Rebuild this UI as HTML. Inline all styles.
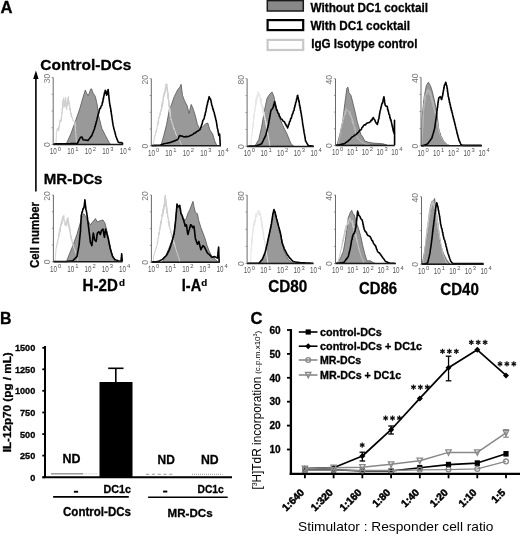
<!DOCTYPE html>
<html><head><meta charset="utf-8"><style>
html,body{margin:0;padding:0;background:#fff;}
svg{display:block;font-family:"Liberation Sans", sans-serif;}
body{filter:grayscale(1) blur(0.35px);}
</style></head><body>
<svg width="520" height="535" viewBox="0 0 520 535">
<rect width="520" height="535" fill="#fff"/>
<text x="0.5" y="13" font-size="16.5" font-weight="bold" fill="#000" text-anchor="start" stroke="#000" stroke-width="0.3" textLength="12" lengthAdjust="spacingAndGlyphs" >A</text>
<rect x="267.3" y="0.6" width="36" height="10.4" fill="#888" stroke="#1a1a1a" stroke-width="1.5"/>
<rect x="267.6" y="20.1" width="35.6" height="10" fill="#fff" stroke="#000" stroke-width="2.2"/>
<rect x="267.6" y="39.9" width="35.6" height="10.1" fill="#fff" stroke="#c8c8c8" stroke-width="2.2"/>
<text x="310.5" y="11.5" font-size="12.5" font-weight="bold" fill="#000" text-anchor="start" stroke="#000" stroke-width="0.3" textLength="117.5" lengthAdjust="spacingAndGlyphs" >Without DC1 cocktail</text>
<text x="310.5" y="29.5" font-size="12.5" font-weight="bold" fill="#000" text-anchor="start" stroke="#000" stroke-width="0.3" textLength="99.5" lengthAdjust="spacingAndGlyphs" >With DC1 cocktail</text>
<text x="311.2" y="47.5" font-size="12.5" font-weight="bold" fill="#000" text-anchor="start" stroke="#000" stroke-width="0.3" textLength="106.3" lengthAdjust="spacingAndGlyphs" >IgG Isotype control</text>
<text x="40.3" y="69.8" font-size="15" font-weight="bold" fill="#000" text-anchor="start" stroke="#000" stroke-width="0.3" textLength="91" lengthAdjust="spacingAndGlyphs" >Control-DCs</text>
<text x="43.8" y="184.3" font-size="15" font-weight="bold" fill="#000" text-anchor="start" stroke="#000" stroke-width="0.3" textLength="58.7" lengthAdjust="spacingAndGlyphs" >MR-DCs</text>
<line x1="35.9" y1="75" x2="35.9" y2="191.6" stroke="#000" stroke-width="1.6" />
<polygon points="33.2,79.0 35.9,70.5 38.6,79.0" fill="#000" stroke="none" stroke-width="1" stroke-linejoin="round" />
<text x="38.5" y="268" font-size="12.5" font-weight="bold" fill="#000" text-anchor="start" stroke="#000" stroke-width="0.3" textLength="66" lengthAdjust="spacingAndGlyphs" transform="rotate(-90 38.5 268)" >Cell number</text>
<text x="82.6" y="290.7" font-size="15.6" font-weight="bold" stroke="#000" stroke-width="0.3" textLength="35.2" lengthAdjust="spacingAndGlyphs">H-2D</text>
<text x="118.9" y="285.8" font-size="9.8" font-weight="bold" stroke="#000" stroke-width="0.2">d</text>
<text x="181.8" y="290.8" font-size="15.6" font-weight="bold" stroke="#000" stroke-width="0.3" textLength="19.4" lengthAdjust="spacingAndGlyphs">I-A</text>
<text x="201.2" y="285.9" font-size="9.8" font-weight="bold" stroke="#000" stroke-width="0.2">d</text>
<text x="268.3" y="291.8" font-size="16" font-weight="bold" fill="#000" text-anchor="start" stroke="#000" stroke-width="0.3" textLength="39.0" lengthAdjust="spacingAndGlyphs" >CD80</text>
<text x="359.0" y="293.9" font-size="16" font-weight="bold" fill="#000" text-anchor="start" stroke="#000" stroke-width="0.3" textLength="38.0" lengthAdjust="spacingAndGlyphs" >CD86</text>
<text x="440.3" y="294.9" font-size="16" font-weight="bold" fill="#000" text-anchor="start" stroke="#000" stroke-width="0.3" textLength="38.6" lengthAdjust="spacingAndGlyphs" >CD40</text>
<line x1="51.6" y1="77.5" x2="53.2" y2="77.5" stroke="#888" stroke-width="0.8" />
<line x1="51.6" y1="94.25" x2="53.2" y2="94.25" stroke="#888" stroke-width="0.8" />
<line x1="51.6" y1="111.0" x2="53.2" y2="111.0" stroke="#888" stroke-width="0.8" />
<line x1="51.6" y1="127.75" x2="53.2" y2="127.75" stroke="#888" stroke-width="0.8" />
<line x1="51.6" y1="144.5" x2="53.2" y2="144.5" stroke="#888" stroke-width="0.8" />
<polygon points="66.0,144.5 71.0,133.4 77.4,115.6 80.0,108.0 82.5,99.0 85.3,90.0 86.5,93.0 88.2,95.9 90.8,88.9 91.6,88.9 93.0,93.0 95.4,96.5 97.3,105.4 98.6,115.6 101.8,128.3 105.6,135.9 109.4,142.9 110.7,144.5" fill="#999" stroke="#555" stroke-width="0.8" stroke-linejoin="round" />
<polyline points="56.0,144.0 56.0,143.1 56.1,141.9 56.1,141.2 56.1,139.9 56.2,139.3 56.2,137.7 56.3,137.2 56.3,135.6 56.3,135.2 56.4,133.5 56.4,133.0 56.6,132.3 56.8,130.6 57.1,130.7 57.3,127.9 57.5,128.0 57.8,129.5 58.2,129.5 58.5,131.0 58.6,130.9 58.8,127.8 58.9,128.9 59.0,126.2 59.2,127.5 59.3,124.5 59.5,125.5 59.6,122.1 59.7,122.7 59.9,120.3 60.0,120.0 60.5,122.0 61.0,122.0 61.1,119.4 61.2,120.8 61.3,117.6 61.4,119.6 61.5,115.8 61.6,117.6 61.7,114.2 61.8,114.8 61.9,111.9 62.0,112.0 62.1,113.1 62.2,108.3 62.4,110.5 62.5,105.9 62.6,108.9 62.7,104.4 62.8,107.7 62.9,101.4 63.0,104.6 63.2,99.6 63.3,103.3 63.4,100.0 63.6,97.8 63.8,104.8 64.0,101.3 64.1,107.2 64.3,103.8 64.5,106.0 64.6,106.9 64.8,101.3 64.9,104.3 65.1,99.8 65.2,102.1 65.4,97.3 65.5,99.0 65.6,102.9 65.7,98.6 65.8,105.1 65.9,101.3 66.1,106.5 66.2,102.7 66.3,108.2 66.4,105.1 66.5,108.0 66.7,109.7 66.9,103.0 67.1,107.0 67.3,104.0 67.5,100.5 67.7,103.2 67.8,98.2 68.0,102.6 68.2,99.0 68.4,96.5 68.6,104.0 68.8,100.3 69.0,104.9 69.2,104.0 69.4,102.6 69.5,107.0 69.7,105.1 69.8,109.2 70.0,107.9 70.2,110.9 70.3,108.8 70.5,112.0 70.8,114.0 71.0,112.8 71.2,116.4 71.5,113.9 71.8,117.8 72.0,118.0 72.5,117.7 73.0,121.3 73.5,121.0 74.9,122.0 75.0,121.4 75.1,125.4 75.1,123.6 75.2,126.7 75.3,126.2 75.3,128.7 75.4,127.9 75.5,131.1 75.6,130.6 75.7,132.4 75.7,132.6 75.8,134.0 75.9,135.4 75.9,135.6 76.0,137.4 76.1,137.7 76.2,139.1 76.2,139.8 76.3,141.2 76.4,141.9 76.4,143.1 76.5,144.0" fill="none" stroke="#d0d0d0" stroke-width="1.0" stroke-linejoin="round" />
<polyline points="53.5,144.0 54.8,144.0 56.0,143.9 57.3,143.9 58.5,143.9 59.8,143.9 61.0,143.8 62.3,143.8 63.6,143.8 64.8,143.8 66.1,143.7 67.3,143.7 68.6,143.7 69.9,143.7 71.1,143.6 72.4,143.6 73.6,143.6 74.9,143.6 76.1,143.5 77.4,143.5 77.9,142.4 78.5,141.1 79.0,140.0 79.8,138.7 80.6,137.2 82.0,137.0 82.5,138.3 83.0,139.7 85.0,140.0 86.5,140.3 88.0,140.4 88.9,139.2 89.8,138.3 90.7,136.9 91.6,135.9 92.1,134.8 92.6,133.2 93.2,132.3 93.7,130.6 94.2,129.6 94.6,128.5 94.9,126.6 95.3,126.3 95.6,124.1 96.0,123.7 96.3,121.7 96.7,120.7 97.0,119.7 97.3,117.7 97.6,117.3 98.0,114.8 98.3,114.7 98.6,112.8 98.9,112.7 99.2,110.5 99.8,108.6 100.5,108.4 101.2,106.0 101.8,105.4 102.1,104.4 102.4,102.2 102.7,102.6 103.0,100.3 103.3,98.1 103.5,98.6 103.8,96.0 104.0,95.8 104.3,94.0 104.6,92.3 105.0,92.3 105.3,90.2 105.6,90.8 105.9,93.5 106.3,93.4 106.6,95.2 107.0,94.2 107.3,91.5 107.7,91.9 108.1,89.5 108.2,89.8 108.4,92.8 108.5,92.3 108.6,95.2 108.8,95.1 108.9,97.4 109.0,97.4 109.1,99.5 109.3,100.1 109.4,101.6 109.6,103.4 109.8,103.7 110.0,106.2 110.2,105.7 110.5,108.5 110.7,108.2 110.9,111.5 111.1,110.8 111.3,113.0 111.5,114.8 111.7,115.1 111.9,117.2 112.1,117.7 112.2,119.7 112.4,120.1 112.6,122.5 112.8,122.6 113.0,124.8 113.2,125.7 113.5,126.6 113.8,128.7 114.2,129.4 114.5,131.1 114.8,131.7 115.2,133.6 115.5,134.4 115.8,135.9 116.3,137.3 116.8,138.4 117.3,139.9 117.8,141.0 118.3,142.3 119.6,142.6 120.8,142.6 122.1,142.9 123.0,144.0" fill="none" stroke="#000" stroke-width="1.6" stroke-linejoin="round" />
<line x1="53.2" y1="77.5" x2="53.2" y2="144.5" stroke="#6a6a6a" stroke-width="1" />
<line x1="53.2" y1="144.5" x2="123.2" y2="144.5" stroke="#1a1a1a" stroke-width="1.5" />
<text x="49.8" y="154.3" font-size="9.2" fill="#555" textLength="7.0" lengthAdjust="spacingAndGlyphs">10</text>
<text x="57.8" y="150.5" font-size="5.8" fill="#555">0</text>
<text x="67.3" y="154.3" font-size="9.2" fill="#555" textLength="7.0" lengthAdjust="spacingAndGlyphs">10</text>
<text x="75.3" y="150.5" font-size="5.8" fill="#555">1</text>
<text x="84.8" y="154.3" font-size="9.2" fill="#555" textLength="7.0" lengthAdjust="spacingAndGlyphs">10</text>
<text x="92.8" y="150.5" font-size="5.8" fill="#555">2</text>
<text x="102.3" y="154.3" font-size="9.2" fill="#555" textLength="7.0" lengthAdjust="spacingAndGlyphs">10</text>
<text x="110.3" y="150.5" font-size="5.8" fill="#555">3</text>
<text x="119.8" y="154.3" font-size="9.2" fill="#555" textLength="7.0" lengthAdjust="spacingAndGlyphs">10</text>
<text x="127.8" y="150.5" font-size="5.8" fill="#555">4</text>
<text x="50.0" y="78.5" font-size="8.5" font-weight="normal" fill="#777" text-anchor="middle" transform="rotate(-90 50.0 78.5)" >30</text>
<text x="50.0" y="144.7" font-size="8.5" font-weight="normal" fill="#777" text-anchor="middle" transform="rotate(-90 50.0 144.7)" >0</text>
<line x1="149.70000000000002" y1="78.7" x2="151.3" y2="78.7" stroke="#888" stroke-width="0.8" />
<line x1="149.70000000000002" y1="95.47500000000001" x2="151.3" y2="95.47500000000001" stroke="#888" stroke-width="0.8" />
<line x1="149.70000000000002" y1="112.25" x2="151.3" y2="112.25" stroke="#888" stroke-width="0.8" />
<line x1="149.70000000000002" y1="129.025" x2="151.3" y2="129.025" stroke="#888" stroke-width="0.8" />
<line x1="149.70000000000002" y1="145.8" x2="151.3" y2="145.8" stroke="#888" stroke-width="0.8" />
<polygon points="161.0,145.5 163.8,135.5 166.6,124.4 169.4,109.2 171.4,105.0 174.2,96.7 177.7,89.8 180.0,87.0 181.1,84.3 182.5,95.4 184.6,100.9 187.1,105.7 189.1,113.3 191.2,104.4 193.3,109.2 195.4,116.1 197.4,124.4 199.5,128.6 202.3,127.2 205.7,123.7 207.8,123.0 209.9,130.0 212.7,134.1 214.7,141.0 216.8,145.5" fill="#999" stroke="#555" stroke-width="0.8" stroke-linejoin="round" />
<polyline points="153.0,145.5 153.2,144.6 153.4,143.4 153.6,142.8 153.7,141.3 153.9,140.8 154.1,139.6 154.4,138.3 154.6,137.8 154.9,135.7 155.2,136.1 155.4,134.0 155.7,134.2 155.9,131.1 156.2,132.1 156.5,129.4 156.7,130.0 157.0,128.0 157.2,126.4 157.4,126.5 157.6,123.4 157.8,125.3 158.0,121.8 158.2,123.8 158.4,119.8 158.6,121.9 158.8,117.1 159.0,118.0 159.3,118.0 159.6,114.7 159.9,116.1 160.1,112.6 160.4,114.6 160.7,110.3 161.0,110.6 161.2,111.3 161.4,107.3 161.6,110.3 161.8,104.6 162.0,107.3 162.2,101.9 162.4,106.4 162.6,100.0 162.8,104.4 163.0,100.0 163.2,96.7 163.4,100.2 163.6,94.5 163.9,96.9 164.1,92.6 164.3,95.2 164.5,92.6 164.8,90.5 165.0,93.5 165.3,88.0 165.6,90.7 165.8,84.6 166.1,88.8 166.3,83.5 166.6,84.3 166.7,87.7 166.9,84.0 167.0,90.4 167.1,87.1 167.3,91.9 167.4,88.9 167.5,93.3 167.6,89.7 167.8,95.9 167.9,92.2 168.0,98.6 168.2,93.5 168.3,99.9 168.4,96.3 168.6,102.2 168.7,100.9 168.8,99.6 168.9,105.7 169.1,102.0 169.2,107.2 169.3,104.1 169.4,110.1 169.6,105.8 169.7,111.9 169.8,107.5 169.9,112.6 170.1,110.5 170.2,115.8 170.3,112.2 170.4,116.4 170.6,115.6 170.7,117.5 171.0,119.9 171.3,118.9 171.6,121.7 171.9,121.2 172.2,124.3 172.5,124.0 172.8,123.6 173.2,127.5 173.5,126.5 173.9,129.3 174.2,128.2 174.6,130.8 174.9,131.3 175.3,131.2 175.7,134.2 176.2,133.7 176.6,135.9 177.0,136.0 177.5,136.6 178.1,138.4 178.6,138.5 179.2,140.4 179.7,141.0 180.2,141.8 180.6,142.9 181.1,143.6 181.5,144.7 182.0,145.5" fill="none" stroke="#d0d0d0" stroke-width="1.0" stroke-linejoin="round" />
<polyline points="151.8,145.5 153.2,145.5 154.5,145.4 155.9,145.4 157.3,145.3 158.6,145.3 160.0,145.2 161.3,144.7 162.5,144.3 163.8,143.8 165.2,143.5 166.6,143.3 167.9,142.9 169.3,142.7 170.7,142.4 171.9,141.8 173.0,141.6 174.2,140.9 175.4,140.6 176.5,140.0 177.7,139.6 178.4,138.3 179.0,136.6 179.7,135.5 180.9,136.0 182.1,136.1 183.4,136.7 184.6,136.9 186.1,136.4 187.6,136.7 189.1,136.2 190.5,135.4 191.9,134.9 193.3,134.1 194.3,133.0 195.4,133.0 196.4,131.7 197.4,131.3 198.8,130.5 200.2,129.3 200.6,127.9 201.0,127.2 201.5,125.2 201.9,124.5 202.3,123.0 202.7,121.0 203.0,120.3 203.7,119.5 204.4,117.5 204.7,115.4 205.1,115.1 205.4,112.5 205.7,112.0 206.0,110.9 206.3,108.3 206.5,108.4 206.8,105.9 207.1,105.0 207.4,104.5 207.7,101.7 208.0,101.9 208.3,99.9 208.6,99.7 208.9,97.4 209.2,96.7 209.9,98.5 210.6,99.5 210.9,100.3 211.2,102.3 211.4,102.8 211.7,105.0 212.0,105.7 212.4,106.4 212.8,109.1 213.2,109.0 213.6,111.4 214.0,112.0 214.3,112.8 214.6,114.9 214.9,115.3 215.2,117.2 215.5,117.7 215.8,119.8 216.1,120.3 216.3,121.0 216.5,123.0 216.7,123.4 216.9,125.6 217.1,126.0 217.3,127.9 217.5,128.6 217.8,129.7 218.1,131.6 218.3,132.4 218.6,134.3 218.9,135.5 219.6,134.0 219.7,135.0 219.8,136.7 219.8,137.5 219.9,139.1 220.0,140.1 220.1,141.6 220.1,142.6 220.2,144.0 220.3,145.2" fill="none" stroke="#000" stroke-width="1.6" stroke-linejoin="round" />
<line x1="151.3" y1="78.7" x2="151.3" y2="145.8" stroke="#6a6a6a" stroke-width="1" />
<line x1="151.3" y1="145.8" x2="221" y2="145.8" stroke="#1a1a1a" stroke-width="1.5" />
<text x="147.9" y="155.6" font-size="9.2" fill="#555" textLength="7.0" lengthAdjust="spacingAndGlyphs">10</text>
<text x="155.9" y="151.8" font-size="5.8" fill="#555">0</text>
<text x="165.3" y="155.6" font-size="9.2" fill="#555" textLength="7.0" lengthAdjust="spacingAndGlyphs">10</text>
<text x="173.3" y="151.8" font-size="5.8" fill="#555">1</text>
<text x="182.8" y="155.6" font-size="9.2" fill="#555" textLength="7.0" lengthAdjust="spacingAndGlyphs">10</text>
<text x="190.8" y="151.8" font-size="5.8" fill="#555">2</text>
<text x="200.2" y="155.6" font-size="9.2" fill="#555" textLength="7.0" lengthAdjust="spacingAndGlyphs">10</text>
<text x="208.2" y="151.8" font-size="5.8" fill="#555">3</text>
<text x="217.6" y="155.6" font-size="9.2" fill="#555" textLength="7.0" lengthAdjust="spacingAndGlyphs">10</text>
<text x="225.6" y="151.8" font-size="5.8" fill="#555">4</text>
<text x="148.10000000000002" y="79.7" font-size="8.5" font-weight="normal" fill="#777" text-anchor="middle" transform="rotate(-90 148.10000000000002 79.7)" >20</text>
<text x="148.10000000000002" y="146.0" font-size="8.5" font-weight="normal" fill="#777" text-anchor="middle" transform="rotate(-90 148.10000000000002 146.0)" >0</text>
<line x1="245.5" y1="78.7" x2="247.1" y2="78.7" stroke="#888" stroke-width="0.8" />
<line x1="245.5" y1="95.625" x2="247.1" y2="95.625" stroke="#888" stroke-width="0.8" />
<line x1="245.5" y1="112.55000000000001" x2="247.1" y2="112.55000000000001" stroke="#888" stroke-width="0.8" />
<line x1="245.5" y1="129.47500000000002" x2="247.1" y2="129.47500000000002" stroke="#888" stroke-width="0.8" />
<line x1="245.5" y1="146.4" x2="247.1" y2="146.4" stroke="#888" stroke-width="0.8" />
<polygon points="254.7,146.2 258.8,139.6 261.6,127.2 264.4,110.6 267.1,98.1 269.9,94.0 272.0,91.9 274.0,96.7 276.1,107.8 279.6,117.5 282.3,124.4 285.0,130.0 287.0,134.0 291.0,143.8 293.8,146.2" fill="#999" stroke="#555" stroke-width="0.8" stroke-linejoin="round" />
<polyline points="250.5,146.2 250.6,145.2 250.8,144.1 250.9,143.3 251.0,142.0 251.1,141.5 251.2,139.9 251.4,139.4 251.5,137.9 251.6,137.7 251.8,135.3 251.9,135.8 252.0,133.6 252.1,133.5 252.2,131.4 252.4,131.8 252.5,130.0 252.6,128.4 252.7,128.9 252.8,126.2 252.9,127.6 253.1,123.3 253.2,125.2 253.3,122.1 253.4,123.9 253.5,120.0 253.6,121.2 253.7,118.3 253.8,119.3 253.9,115.5 254.1,117.6 254.2,113.9 254.3,115.7 254.4,112.2 254.5,112.0 254.7,112.4 254.8,108.9 255.0,110.7 255.1,107.0 255.3,108.0 255.4,104.3 255.6,106.5 255.7,101.6 255.9,105.3 256.0,99.1 256.2,103.7 256.3,97.2 256.5,99.0 256.8,101.2 257.1,95.0 257.5,97.8 257.8,91.5 258.1,94.0 258.7,96.4 259.4,93.2 260.0,97.0 260.2,100.6 260.5,97.8 260.8,103.1 261.0,97.8 261.2,104.6 261.5,100.2 261.8,106.9 262.0,105.0 262.2,104.7 262.4,109.1 262.7,105.9 262.9,111.6 263.1,107.4 263.3,113.4 263.5,109.9 263.7,115.3 264.0,111.8 264.2,116.8 264.4,114.6 264.6,117.5 264.8,116.8 265.0,119.9 265.3,118.8 265.5,122.4 265.7,121.6 265.9,121.3 266.1,125.0 266.2,123.4 266.4,127.0 266.6,125.8 266.8,128.3 267.0,127.7 267.1,131.0 267.3,130.2 267.5,132.0 267.7,133.7 267.9,133.3 268.0,135.4 268.2,135.4 268.4,137.4 268.6,137.9 268.8,139.4 268.9,139.7 269.1,141.3 269.3,141.9 269.5,143.4 269.6,144.1 269.8,145.2 270.0,146.2" fill="none" stroke="#e6e6e6" stroke-width="1.0" stroke-linejoin="round" />
<polyline points="247.5,146.2 248.7,146.2 249.9,146.1 251.1,146.1 252.4,146.1 253.6,146.1 254.8,146.0 256.0,146.0 257.1,145.6 258.2,145.1 259.4,144.7 260.5,144.2 261.6,143.8 262.2,142.7 262.8,141.4 263.4,140.3 263.9,138.9 264.5,138.1 265.1,136.5 265.7,135.5 266.0,134.5 266.3,132.8 266.6,132.1 266.9,130.3 267.3,129.7 267.6,127.9 267.9,127.4 268.2,125.4 268.5,124.4 268.7,123.8 268.9,121.2 269.1,120.9 269.3,118.9 269.6,118.9 269.8,116.1 270.0,116.3 270.2,114.0 270.4,113.7 270.6,112.0 271.3,109.6 272.0,109.2 272.7,108.2 273.4,106.4 273.7,104.5 274.0,104.4 274.4,102.1 274.7,101.6 275.0,103.8 275.3,103.7 275.5,106.2 275.8,105.9 276.1,107.8 276.6,110.1 277.1,109.8 277.7,112.4 278.2,113.3 278.8,113.5 279.3,116.1 279.9,116.4 280.4,118.0 281.0,118.9 282.0,119.3 283.1,121.2 284.1,121.6 284.7,122.3 285.3,124.0 285.9,124.4 286.4,126.1 287.0,126.3 287.6,127.9 288.0,126.8 288.4,124.9 288.9,124.7 289.3,122.6 289.7,121.6 290.2,121.0 290.8,118.2 291.3,118.3 291.8,116.1 292.3,114.2 292.8,113.9 293.3,111.4 293.8,110.6 294.1,110.4 294.4,107.5 294.7,107.6 295.0,105.3 295.3,105.2 295.6,103.2 295.9,102.3 296.3,101.3 296.6,98.7 297.0,98.7 297.3,95.8 297.7,95.4 297.9,97.1 298.2,97.3 298.4,99.6 298.7,99.7 298.9,101.9 299.2,101.5 299.4,103.7 299.6,105.8 299.8,105.3 300.1,108.1 300.3,107.6 300.5,110.8 300.7,110.3 301.0,113.1 301.2,113.1 301.4,114.7 301.6,116.7 301.8,116.7 302.0,119.2 302.2,119.2 302.4,121.4 302.5,122.0 302.7,124.2 302.9,124.6 303.1,126.5 303.3,127.0 303.5,128.6 303.7,130.1 303.9,130.7 304.1,132.7 304.3,133.4 304.6,135.1 304.8,135.9 305.0,137.5 305.2,138.4 305.4,139.8 305.6,141.0 306.3,142.1 307.0,143.4 307.7,144.5 308.4,145.8 309.7,145.9 310.9,145.9 312.2,146.0 313.5,146.0" fill="none" stroke="#000" stroke-width="1.6" stroke-linejoin="round" />
<line x1="247.1" y1="78.7" x2="247.1" y2="146.4" stroke="#6a6a6a" stroke-width="1" />
<line x1="247.1" y1="146.4" x2="313.9" y2="146.4" stroke="#1a1a1a" stroke-width="1.5" />
<text x="243.7" y="156.2" font-size="9.2" fill="#555" textLength="7.0" lengthAdjust="spacingAndGlyphs">10</text>
<text x="251.7" y="152.4" font-size="5.8" fill="#555">0</text>
<text x="260.4" y="156.2" font-size="9.2" fill="#555" textLength="7.0" lengthAdjust="spacingAndGlyphs">10</text>
<text x="268.4" y="152.4" font-size="5.8" fill="#555">1</text>
<text x="277.1" y="156.2" font-size="9.2" fill="#555" textLength="7.0" lengthAdjust="spacingAndGlyphs">10</text>
<text x="285.1" y="152.4" font-size="5.8" fill="#555">2</text>
<text x="293.8" y="156.2" font-size="9.2" fill="#555" textLength="7.0" lengthAdjust="spacingAndGlyphs">10</text>
<text x="301.8" y="152.4" font-size="5.8" fill="#555">3</text>
<text x="310.5" y="156.2" font-size="9.2" fill="#555" textLength="7.0" lengthAdjust="spacingAndGlyphs">10</text>
<text x="318.5" y="152.4" font-size="5.8" fill="#555">4</text>
<text x="243.9" y="79.7" font-size="8.5" font-weight="normal" fill="#777" text-anchor="middle" transform="rotate(-90 243.9 79.7)" >80</text>
<text x="243.9" y="146.6" font-size="8.5" font-weight="normal" fill="#777" text-anchor="middle" transform="rotate(-90 243.9 146.6)" >0</text>
<line x1="333.9" y1="78.7" x2="335.5" y2="78.7" stroke="#888" stroke-width="0.8" />
<line x1="333.9" y1="95.375" x2="335.5" y2="95.375" stroke="#888" stroke-width="0.8" />
<line x1="333.9" y1="112.05000000000001" x2="335.5" y2="112.05000000000001" stroke="#888" stroke-width="0.8" />
<line x1="333.9" y1="128.72500000000002" x2="335.5" y2="128.72500000000002" stroke="#888" stroke-width="0.8" />
<line x1="333.9" y1="145.4" x2="335.5" y2="145.4" stroke="#888" stroke-width="0.8" />
<polygon points="337.1,145.2 339.9,134.1 342.7,121.6 344.8,103.7 346.8,88.4 347.9,87.1 348.9,92.6 351.0,95.4 353.1,103.7 355.1,112.0 357.2,121.6 359.3,128.6 360.7,134.1 362.7,136.9 364.8,141.0 369.0,142.4 373.0,143.1 383.0,143.8 387.1,145.2" fill="#999" stroke="#555" stroke-width="0.8" stroke-linejoin="round" />
<polyline points="338.0,145.2 338.2,144.3 338.4,143.1 338.6,142.3 338.8,141.0 339.0,140.3 339.2,138.8 339.4,138.3 339.6,136.8 339.8,136.4 340.0,134.5 340.2,134.9 340.4,132.2 340.6,132.7 340.8,130.3 341.0,130.0 341.2,129.9 341.4,127.2 341.6,127.8 341.9,125.5 342.1,125.8 342.3,122.3 342.5,123.7 342.7,120.8 342.9,122.4 343.1,118.2 343.4,120.0 343.6,116.9 343.8,118.1 344.0,116.0 344.4,113.6 344.8,115.5 345.2,110.5 345.7,114.4 346.1,108.5 346.5,110.0 347.5,111.2 348.5,110.6 349.0,110.8 349.5,114.8 350.0,111.5 350.5,116.5 351.0,116.0 351.3,115.4 351.6,118.7 351.9,117.8 352.2,121.9 352.5,119.3 352.8,123.7 353.1,121.2 353.4,124.8 353.7,124.4 354.0,126.0 354.2,127.6 354.5,127.1 354.8,130.0 355.0,128.8 355.2,131.9 355.5,131.2 355.8,133.8 356.0,134.0 356.4,134.5 356.8,136.5 357.1,136.8 357.5,138.0 358.3,139.4 359.2,139.8 360.0,141.0 361.0,141.9 362.0,142.0 363.0,142.9 364.0,143.3 365.0,144.0 366.0,144.3 367.0,144.4 368.0,144.8 369.0,144.9 370.0,145.2" fill="none" stroke="#bdbdbd" stroke-width="1.0" stroke-linejoin="round" />
<polyline points="336.0,145.2 337.2,145.1 338.5,145.0 339.9,144.7 341.3,144.4 342.7,144.1 344.1,143.8 345.1,143.1 346.1,142.3 347.2,141.7 348.2,141.0 349.2,139.9 350.3,139.1 351.3,137.7 352.4,136.9 353.4,136.4 354.4,135.2 355.5,135.0 356.5,134.1 357.6,132.9 358.6,132.2 359.6,130.5 360.7,129.9 361.4,129.3 362.0,127.6 362.7,127.0 363.4,125.8 364.4,124.7 365.5,124.9 366.6,123.3 367.6,123.0 369.1,122.6 370.5,121.6 371.2,120.0 371.9,120.3 372.6,118.2 373.3,117.5 374.0,119.1 374.7,119.8 375.4,121.6 376.4,123.4 377.4,124.4 377.8,122.5 378.1,122.0 378.4,119.6 378.8,118.9 379.0,118.4 379.2,116.0 379.4,115.7 379.6,113.2 379.8,113.5 380.0,110.9 380.2,110.6 380.6,109.7 380.9,107.3 381.2,107.2 381.6,105.0 382.1,103.1 382.5,103.2 383.0,100.9 383.3,98.9 383.6,98.5 383.9,96.7 384.1,97.6 384.3,100.1 384.5,100.1 384.7,103.2 384.9,103.2 385.1,105.0 386.1,106.3 387.1,106.4 387.4,107.1 387.7,109.8 388.0,109.6 388.3,111.5 388.6,112.0 388.9,114.1 389.2,114.7 389.6,115.0 389.9,117.8 390.2,117.5 390.6,120.1 390.9,119.7 391.3,121.6 391.6,123.2 391.8,123.7 392.1,125.8 392.4,126.0 392.6,127.8 392.9,128.5 393.1,130.3 393.4,131.3 393.9,132.5 394.3,134.1 394.3,133.0 394.3,131.4 394.4,130.5 394.4,128.8 394.4,128.1 394.4,126.0 394.4,125.6 394.4,123.4 394.5,123.1 394.5,121.2 394.5,120.3 394.5,122.2 394.5,122.2 394.5,124.4 394.5,125.1 394.5,126.9 394.5,127.5 394.5,129.5 394.5,130.1 394.5,131.7 394.6,132.4 394.6,134.1 394.6,135.1 394.6,136.7 394.6,137.5 394.6,139.0 394.6,140.2 394.6,141.5 394.6,142.6 394.6,144.0 394.6,145.2" fill="none" stroke="#000" stroke-width="1.6" stroke-linejoin="round" />
<line x1="335.5" y1="78.7" x2="335.5" y2="145.4" stroke="#6a6a6a" stroke-width="1" />
<line x1="335.5" y1="145.4" x2="394.7" y2="145.4" stroke="#1a1a1a" stroke-width="1.5" />
<text x="332.1" y="155.2" font-size="9.2" fill="#555" textLength="7.0" lengthAdjust="spacingAndGlyphs">10</text>
<text x="340.1" y="151.4" font-size="5.8" fill="#555">0</text>
<text x="346.9" y="155.2" font-size="9.2" fill="#555" textLength="7.0" lengthAdjust="spacingAndGlyphs">10</text>
<text x="354.9" y="151.4" font-size="5.8" fill="#555">1</text>
<text x="361.7" y="155.2" font-size="9.2" fill="#555" textLength="7.0" lengthAdjust="spacingAndGlyphs">10</text>
<text x="369.7" y="151.4" font-size="5.8" fill="#555">2</text>
<text x="376.5" y="155.2" font-size="9.2" fill="#555" textLength="7.0" lengthAdjust="spacingAndGlyphs">10</text>
<text x="384.5" y="151.4" font-size="5.8" fill="#555">3</text>
<text x="391.3" y="155.2" font-size="9.2" fill="#555" textLength="7.0" lengthAdjust="spacingAndGlyphs">10</text>
<text x="399.3" y="151.4" font-size="5.8" fill="#555">4</text>
<text x="332.3" y="79.7" font-size="8.5" font-weight="normal" fill="#777" text-anchor="middle" transform="rotate(-90 332.3 79.7)" >40</text>
<text x="332.3" y="145.6" font-size="8.5" font-weight="normal" fill="#777" text-anchor="middle" transform="rotate(-90 332.3 145.6)" >0</text>
<line x1="419.4" y1="77.3" x2="421.0" y2="77.3" stroke="#888" stroke-width="0.8" />
<line x1="419.4" y1="94.425" x2="421.0" y2="94.425" stroke="#888" stroke-width="0.8" />
<line x1="419.4" y1="111.55000000000001" x2="421.0" y2="111.55000000000001" stroke="#888" stroke-width="0.8" />
<line x1="419.4" y1="128.675" x2="421.0" y2="128.675" stroke="#888" stroke-width="0.8" />
<line x1="419.4" y1="145.8" x2="421.0" y2="145.8" stroke="#888" stroke-width="0.8" />
<polygon points="421.5,145.6 422.1,117.5 424.2,96.7 426.3,85.7 428.4,82.2 430.4,85.7 431.8,89.8 433.9,98.1 436.0,107.8 437.4,117.5 438.7,128.6 440.8,135.5 443.6,141.0 447.0,144.5 450.0,145.6" fill="#999" stroke="#555" stroke-width="0.8" stroke-linejoin="round" />
<polyline points="422.0,145.6 422.0,144.7 422.1,143.4 422.1,142.7 422.2,141.4 422.2,140.9 422.3,139.1 422.3,138.8 422.3,136.9 422.4,136.8 422.4,135.0 422.5,134.7 422.5,132.6 422.6,133.4 422.6,130.5 422.6,131.5 422.7,128.9 422.7,129.0 422.8,126.4 422.8,127.8 422.9,123.7 422.9,125.2 422.9,122.4 423.0,123.3 423.0,119.9 423.1,122.1 423.1,118.2 423.2,120.0 423.2,115.2 423.2,118.2 423.3,113.0 423.3,115.9 423.4,111.7 423.4,113.4 423.5,109.5 423.5,110.0 423.6,111.5 423.8,106.9 423.9,108.4 424.0,103.4 424.2,106.5 424.3,102.8 424.4,104.1 424.6,99.6 424.7,102.8 424.8,96.5 425.0,102.2 425.1,94.5 425.2,98.7 425.4,94.7 425.5,95.0 426.0,95.3 426.5,90.7 427.0,94.8 427.5,88.9 428.0,90.0 428.6,92.6 429.2,89.9 429.8,95.6 430.4,91.3 431.0,95.0 431.2,98.9 431.5,93.9 431.7,100.7 431.9,97.7 432.2,103.1 432.4,99.2 432.6,104.4 432.8,101.1 433.1,106.7 433.3,103.6 433.5,107.5 433.8,105.5 434.0,108.0 434.2,110.2 434.4,107.4 434.6,113.0 434.9,110.6 435.1,114.5 435.3,111.5 435.5,116.6 435.7,114.9 435.9,119.0 436.1,116.3 436.4,121.1 436.6,119.2 436.8,122.3 437.0,122.0 437.2,121.4 437.5,125.5 437.7,123.4 437.9,126.5 438.2,126.2 438.4,128.5 438.6,128.4 438.8,131.2 439.1,130.2 439.3,133.1 439.5,132.4 439.8,134.9 440.0,135.0 440.5,135.4 441.0,137.1 441.5,137.1 442.0,139.1 442.5,139.2 443.0,140.6 443.5,140.9 444.0,142.0 444.8,142.7 445.7,143.1 446.5,143.9 447.3,144.4 448.2,145.0 449.0,145.6" fill="none" stroke="#b5b5b5" stroke-width="1.0" stroke-linejoin="round" />
<polyline points="421.5,145.6 423.5,145.6 424.9,145.0 426.3,144.4 427.7,143.8 428.5,142.7 429.3,141.5 430.2,140.5 431.0,139.2 431.8,138.2 432.2,137.1 432.5,135.6 432.9,134.7 433.2,133.1 433.6,132.5 433.9,130.8 434.2,130.0 434.6,128.6 434.8,127.1 435.0,126.6 435.1,124.5 435.3,124.0 435.5,122.2 435.6,121.9 435.8,119.7 436.0,118.9 436.2,118.1 436.3,116.0 436.5,116.1 436.6,113.5 436.8,113.4 436.9,110.9 437.1,110.9 437.2,108.1 437.4,107.8 437.6,107.6 437.7,104.8 437.9,104.6 438.0,102.1 438.2,102.2 438.4,100.2 438.5,100.2 438.7,98.1 440.1,96.7 440.8,97.5 441.5,99.5 441.9,99.0 442.2,96.2 442.5,96.3 442.9,94.0 443.1,92.2 443.3,92.0 443.5,90.1 443.7,89.9 443.9,87.3 444.1,87.8 444.3,85.7 444.8,84.2 445.2,84.1 445.7,82.2 446.0,82.9 446.4,85.3 446.7,85.5 447.0,87.1 447.2,88.8 447.4,88.8 447.5,91.6 447.7,91.5 447.9,93.7 448.0,93.4 448.2,96.5 448.4,96.7 448.7,97.5 448.9,99.5 449.2,99.4 449.4,102.5 449.7,102.1 450.0,104.3 450.2,104.2 450.5,106.4 450.8,108.2 451.1,107.8 451.4,110.7 451.7,110.3 452.0,112.7 452.3,112.7 452.6,114.7 452.9,116.3 453.2,116.6 453.5,119.0 453.8,118.7 454.1,121.0 454.4,121.5 454.7,123.0 455.0,124.6 455.3,125.0 455.6,126.9 455.8,127.5 456.1,129.2 456.4,129.7 456.7,131.3 457.0,132.9 457.3,133.6 457.6,135.1 457.9,135.8 458.2,137.3 458.5,138.2 458.8,139.6 459.3,140.9 459.9,142.0 460.4,143.3 460.9,144.5 463.0,145.4 464.2,145.4 465.5,145.4 466.7,145.4 467.9,145.4 469.2,145.4 470.4,145.4 471.6,145.4 472.9,145.4 474.1,145.4 475.3,145.4 476.6,145.4 477.8,145.4 479.0,145.4 480.3,145.4 481.5,145.4" fill="none" stroke="#000" stroke-width="1.6" stroke-linejoin="round" />
<line x1="421.0" y1="77.3" x2="421.0" y2="145.8" stroke="#6a6a6a" stroke-width="1" />
<line x1="421.0" y1="145.8" x2="482" y2="145.8" stroke="#1a1a1a" stroke-width="1.5" />
<text x="417.6" y="155.6" font-size="9.2" fill="#555" textLength="7.0" lengthAdjust="spacingAndGlyphs">10</text>
<text x="425.6" y="151.8" font-size="5.8" fill="#555">0</text>
<text x="432.9" y="155.6" font-size="9.2" fill="#555" textLength="7.0" lengthAdjust="spacingAndGlyphs">10</text>
<text x="440.9" y="151.8" font-size="5.8" fill="#555">1</text>
<text x="448.1" y="155.6" font-size="9.2" fill="#555" textLength="7.0" lengthAdjust="spacingAndGlyphs">10</text>
<text x="456.1" y="151.8" font-size="5.8" fill="#555">2</text>
<text x="463.4" y="155.6" font-size="9.2" fill="#555" textLength="7.0" lengthAdjust="spacingAndGlyphs">10</text>
<text x="471.4" y="151.8" font-size="5.8" fill="#555">3</text>
<text x="478.6" y="155.6" font-size="9.2" fill="#555" textLength="7.0" lengthAdjust="spacingAndGlyphs">10</text>
<text x="486.6" y="151.8" font-size="5.8" fill="#555">4</text>
<text x="417.8" y="78.3" font-size="8.5" font-weight="normal" fill="#777" text-anchor="middle" transform="rotate(-90 417.8 78.3)" >40</text>
<text x="417.8" y="146.0" font-size="8.5" font-weight="normal" fill="#777" text-anchor="middle" transform="rotate(-90 417.8 146.0)" >0</text>
<line x1="51.8" y1="195.0" x2="53.4" y2="195.0" stroke="#888" stroke-width="0.8" />
<line x1="51.8" y1="211.675" x2="53.4" y2="211.675" stroke="#888" stroke-width="0.8" />
<line x1="51.8" y1="228.35" x2="53.4" y2="228.35" stroke="#888" stroke-width="0.8" />
<line x1="51.8" y1="245.02499999999998" x2="53.4" y2="245.02499999999998" stroke="#888" stroke-width="0.8" />
<line x1="51.8" y1="261.7" x2="53.4" y2="261.7" stroke="#888" stroke-width="0.8" />
<polygon points="66.5,261.5 70.0,252.5 73.4,244.2 76.9,234.5 79.7,224.8 81.7,217.9 83.8,213.7 86.6,217.9 87.8,220.7 90.5,224.8 92.6,222.0 95.4,218.6 97.4,222.0 100.2,220.7 103.0,220.0 105.1,223.4 107.1,231.7 109.2,241.4 111.3,251.1 113.4,258.0 115.4,261.5" fill="#999" stroke="#555" stroke-width="0.8" stroke-linejoin="round" />
<polyline points="55.0,261.5 55.1,260.5 55.2,259.4 55.3,258.6 55.3,257.3 55.4,256.6 55.5,255.1 55.6,254.6 55.7,253.0 55.8,252.9 55.8,251.1 55.9,251.0 56.0,249.0 56.1,248.3 56.3,248.2 56.6,245.1 56.8,245.9 57.0,243.5 57.3,243.9 57.5,240.9 57.7,242.4 58.0,239.0 58.2,238.6 58.4,239.3 58.6,234.6 58.8,237.3 59.0,232.8 59.2,234.6 59.4,230.4 59.6,233.2 59.8,228.3 60.0,232.1 60.2,227.6 60.4,230.1 60.6,224.1 60.8,226.8 61.0,224.8 61.3,222.1 61.5,225.3 61.8,220.4 62.0,223.7 62.3,218.0 62.6,221.6 62.8,216.1 63.1,216.5 63.4,219.8 63.8,215.3 64.1,221.1 64.4,220.7 64.7,220.3 65.0,224.9 65.2,222.4 65.5,226.1 65.8,226.2 66.1,224.0 66.4,225.5 66.7,220.3 67.0,224.7 67.3,218.3 67.6,221.7 67.9,219.3 68.1,217.5 68.2,222.6 68.4,220.3 68.6,225.7 68.8,222.8 69.0,228.2 69.1,224.6 69.3,227.6 69.5,230.5 69.7,227.2 69.9,231.5 70.1,229.2 70.3,234.3 70.4,232.3 70.6,236.5 70.8,234.6 71.0,238.6 71.2,236.2 71.4,238.6 71.7,240.5 71.9,239.1 72.2,242.5 72.5,241.8 72.8,244.6 73.0,244.0 73.3,246.5 73.6,245.8 73.8,248.2 74.1,248.3 74.5,248.4 74.9,251.2 75.4,251.0 75.8,253.2 76.2,253.9 76.5,254.8 76.7,256.2 77.0,257.0 77.2,258.4 77.5,259.2 77.7,260.5 78.0,261.5" fill="none" stroke="#d0d0d0" stroke-width="1.0" stroke-linejoin="round" />
<polyline points="53.8,261.5 55.0,261.5 56.2,261.5 57.4,261.5 58.6,261.5 59.8,261.5 61.0,261.5 62.2,261.5 63.4,261.5 64.6,261.5 65.8,261.5 67.2,261.4 68.6,261.2 69.9,261.1 71.3,261.0 72.7,260.8 73.8,259.7 74.8,258.8 75.9,257.6 76.9,256.6 77.1,255.6 77.4,254.0 77.6,253.0 77.8,251.6 78.1,250.7 78.3,248.9 78.5,248.4 78.8,246.6 79.0,245.6 79.1,244.6 79.3,242.9 79.4,242.3 79.5,240.1 79.6,239.6 79.8,237.5 79.9,237.2 80.0,234.7 80.1,234.9 80.3,232.6 80.4,231.7 80.5,231.3 80.5,228.8 80.6,228.5 80.7,226.0 80.7,225.8 80.8,223.7 80.9,223.6 81.0,221.2 81.0,220.9 81.1,218.0 81.2,218.1 81.2,215.9 81.3,215.1 81.7,214.6 82.0,212.0 82.3,212.2 82.7,210.3 83.2,208.3 83.6,208.4 84.1,206.8 84.3,204.9 84.4,204.6 84.6,202.3 84.7,202.2 84.9,199.9 85.0,200.3 85.2,203.1 85.3,203.2 85.4,205.6 85.5,205.1 85.7,207.8 85.8,207.6 85.9,209.6 86.4,211.0 86.6,212.8 86.8,213.0 86.9,215.0 87.1,215.4 87.3,217.4 87.5,217.7 87.6,220.3 87.8,220.7 87.9,221.1 88.1,224.0 88.2,223.6 88.4,226.1 88.5,226.1 88.7,228.6 88.8,228.4 89.0,231.1 89.1,231.7 89.3,232.5 89.4,234.8 89.6,234.6 89.7,237.0 89.9,237.2 90.0,239.3 90.2,240.0 90.3,241.8 90.5,242.8 91.2,243.8 91.9,245.6 92.0,244.9 92.2,242.6 92.3,242.2 92.5,240.0 92.6,239.7 92.7,237.8 92.9,237.5 93.0,235.0 93.2,235.0 93.3,233.1 93.6,233.9 93.9,236.6 94.1,236.8 94.4,239.2 94.7,240.0 96.1,241.4 96.3,239.7 96.5,239.6 96.7,237.4 96.8,237.3 97.0,234.9 97.2,234.7 97.4,233.1 98.8,231.7 99.5,232.7 100.2,234.5 100.7,233.7 101.1,231.4 101.6,230.3 103.0,229.0 103.2,231.1 103.4,231.0 103.6,232.8 103.8,233.4 104.0,235.7 104.2,235.7 104.4,237.3 104.6,236.4 104.8,234.7 105.0,234.0 105.1,231.9 105.3,232.0 105.5,229.4 105.7,229.0 106.0,231.1 106.4,231.4 106.8,233.7 107.1,234.5 107.4,235.4 107.8,237.9 108.2,238.0 108.5,240.0 108.8,242.0 109.1,242.6 109.3,244.7 109.6,245.1 109.9,247.0 110.2,248.8 110.6,249.6 111.0,251.3 111.3,252.5 111.8,253.8 112.2,255.3 112.7,256.6 113.7,257.9 114.7,259.4 115.9,259.9 117.0,260.3 118.2,260.8 119.6,261.1 121.0,261.3 121.1,260.0 121.2,258.9 121.3,257.6 121.5,256.4 121.6,255.0 121.7,253.9 121.8,255.3 121.9,256.4 122.0,257.8 122.1,258.9 122.2,260.3 122.3,261.5" fill="none" stroke="#000" stroke-width="1.6" stroke-linejoin="round" />
<line x1="53.4" y1="195" x2="53.4" y2="261.7" stroke="#6a6a6a" stroke-width="1" />
<line x1="53.4" y1="261.7" x2="122.5" y2="261.7" stroke="#1a1a1a" stroke-width="1.5" />
<text x="50.0" y="271.5" font-size="9.2" fill="#555" textLength="7.0" lengthAdjust="spacingAndGlyphs">10</text>
<text x="58.0" y="267.7" font-size="5.8" fill="#555">0</text>
<text x="67.3" y="271.5" font-size="9.2" fill="#555" textLength="7.0" lengthAdjust="spacingAndGlyphs">10</text>
<text x="75.3" y="267.7" font-size="5.8" fill="#555">1</text>
<text x="84.5" y="271.5" font-size="9.2" fill="#555" textLength="7.0" lengthAdjust="spacingAndGlyphs">10</text>
<text x="92.5" y="267.7" font-size="5.8" fill="#555">2</text>
<text x="101.8" y="271.5" font-size="9.2" fill="#555" textLength="7.0" lengthAdjust="spacingAndGlyphs">10</text>
<text x="109.8" y="267.7" font-size="5.8" fill="#555">3</text>
<text x="119.1" y="271.5" font-size="9.2" fill="#555" textLength="7.0" lengthAdjust="spacingAndGlyphs">10</text>
<text x="127.1" y="267.7" font-size="5.8" fill="#555">4</text>
<text x="50.199999999999996" y="196" font-size="8.5" font-weight="normal" fill="#777" text-anchor="middle" transform="rotate(-90 50.199999999999996 196)" >20</text>
<text x="50.199999999999996" y="261.9" font-size="8.5" font-weight="normal" fill="#777" text-anchor="middle" transform="rotate(-90 50.199999999999996 261.9)" >0</text>
<line x1="149.8" y1="195.0" x2="151.4" y2="195.0" stroke="#888" stroke-width="0.8" />
<line x1="149.8" y1="211.8" x2="151.4" y2="211.8" stroke="#888" stroke-width="0.8" />
<line x1="149.8" y1="228.6" x2="151.4" y2="228.6" stroke="#888" stroke-width="0.8" />
<line x1="149.8" y1="245.39999999999998" x2="151.4" y2="245.39999999999998" stroke="#888" stroke-width="0.8" />
<line x1="149.8" y1="262.2" x2="151.4" y2="262.2" stroke="#888" stroke-width="0.8" />
<polygon points="162.4,262.0 166.6,253.9 169.4,247.0 172.1,240.0 174.2,231.7 175.6,220.7 177.0,205.4 179.0,206.8 181.1,213.7 183.2,220.7 186.0,219.3 187.8,213.7 189.8,209.6 191.9,204.1 193.0,201.3 194.0,206.8 195.4,212.4 197.4,213.7 198.8,220.7 200.9,227.6 203.0,233.1 205.1,238.6 207.1,245.6 209.2,251.1 212.0,256.6 215.4,259.4 218.2,262.0" fill="#999" stroke="#555" stroke-width="0.8" stroke-linejoin="round" />
<polyline points="153.5,262.0 153.5,261.0 153.5,259.7 153.5,258.9 153.5,257.5 153.5,256.6 153.8,256.1 154.1,254.2 154.4,254.2 154.7,252.0 155.0,251.9 155.4,250.1 155.7,250.2 156.0,247.7 156.3,248.2 156.6,245.6 156.9,245.6 157.1,245.5 157.3,242.9 157.5,244.0 157.6,240.9 157.8,242.0 158.0,238.7 158.2,239.0 158.4,236.6 158.6,238.1 158.8,233.3 159.0,235.1 159.1,231.9 159.3,233.9 159.5,229.2 159.7,230.3 159.9,230.4 160.0,226.5 160.2,228.7 160.4,223.6 160.6,226.6 160.8,221.2 160.9,224.6 161.1,220.6 161.3,223.6 161.5,217.8 161.6,220.2 161.8,217.9 162.0,214.2 162.2,217.0 162.5,211.7 162.7,216.3 162.9,209.5 163.1,214.0 163.4,208.4 163.6,211.3 163.8,208.2 163.9,205.2 164.1,209.4 164.2,203.9 164.3,207.4 164.4,202.0 164.6,203.7 164.7,199.4 164.8,203.4 164.9,196.8 165.1,200.1 165.2,197.1 165.3,194.9 165.5,200.7 165.6,197.9 165.7,203.5 165.8,199.2 166.0,206.0 166.1,201.5 166.2,207.1 166.3,204.3 166.5,208.6 166.6,208.2 166.8,206.2 166.9,213.0 167.1,208.6 167.2,214.0 167.4,211.5 167.5,217.6 167.7,213.3 167.8,218.2 168.0,217.9 168.2,216.8 168.4,223.0 168.6,219.4 168.8,223.3 169.0,221.3 169.1,226.4 169.3,222.3 169.5,227.2 169.7,225.8 169.9,229.3 170.1,229.0 170.4,228.7 170.7,232.8 171.0,231.2 171.3,234.5 171.6,233.4 171.9,237.5 172.2,234.8 172.5,238.3 172.8,238.6 173.1,237.8 173.4,241.2 173.6,240.6 173.9,244.0 174.2,242.2 174.5,245.6 174.8,244.6 175.0,246.9 175.3,246.4 175.6,248.3 175.9,249.7 176.3,250.0 176.7,251.9 177.0,252.2 177.3,253.9 177.7,254.0 178.1,256.0 178.4,256.6 178.7,257.4 179.0,259.0 179.4,259.7 179.7,261.0 180.0,262.0" fill="none" stroke="#d0d0d0" stroke-width="1.0" stroke-linejoin="round" />
<polyline points="152.0,262.0 153.3,261.9 154.5,261.8 155.8,261.7 157.0,261.6 158.3,261.5 159.7,260.8 161.0,260.1 162.4,259.4 163.4,258.4 164.5,257.2 165.6,256.3 166.6,255.2 167.2,253.9 167.7,253.3 168.3,251.6 168.8,251.1 169.4,249.7 169.8,248.1 170.2,247.7 170.6,245.8 170.9,245.3 171.3,243.5 171.7,243.0 172.1,241.4 172.4,240.0 172.7,239.4 173.0,237.2 173.3,237.3 173.6,234.9 173.9,234.7 174.2,233.1 174.3,231.3 174.5,231.2 174.6,228.7 174.8,228.7 174.9,226.1 175.0,226.6 175.2,224.0 175.3,223.9 175.5,221.1 175.6,220.7 175.7,220.0 175.8,217.5 175.9,217.9 176.0,215.3 176.1,215.0 176.2,212.6 176.4,212.6 176.5,209.5 176.6,209.9 176.7,207.6 176.8,207.4 176.9,204.7 177.0,204.1 177.7,206.3 178.4,206.8 179.7,205.4 179.9,205.9 180.1,208.5 180.3,208.1 180.5,210.8 180.7,210.7 180.9,213.5 181.1,213.7 181.8,214.7 182.5,216.5 183.0,218.7 183.4,218.7 183.9,220.7 184.2,222.9 184.6,223.1 185.0,225.8 185.3,226.2 186.4,224.8 186.6,225.5 186.8,227.6 186.9,227.9 187.1,230.2 187.3,230.6 187.5,232.6 187.6,232.8 187.8,234.5 188.2,233.8 188.7,231.2 189.1,230.3 189.4,229.4 189.8,227.1 190.2,227.0 190.5,224.8 191.6,225.2 192.6,227.6 194.0,226.2 194.1,228.1 194.3,228.2 194.4,230.8 194.6,230.6 194.7,232.8 194.8,233.3 195.0,235.6 195.1,235.4 195.3,237.9 195.4,238.6 195.9,239.6 196.4,241.8 196.9,242.5 197.4,244.2 198.1,243.4 198.8,241.4 199.1,242.3 199.4,244.2 199.7,244.5 200.0,246.6 200.3,247.0 200.6,248.7 200.9,249.7 201.6,248.0 202.3,247.1 203.0,245.6 204.1,246.5 205.1,248.3 205.8,249.9 206.4,250.8 207.1,252.5 208.1,253.6 209.2,254.5 210.1,255.3 211.1,256.5 212.0,257.3 213.3,256.9 214.7,256.6 216.1,257.4 217.5,258.0 217.6,256.7 217.7,255.7 217.9,254.2 218.0,253.2 218.1,251.7 218.2,250.9 218.4,249.2 218.5,248.5 218.6,247.0 218.7,247.9 218.7,249.7 218.8,250.4 218.8,252.3 218.8,253.2 218.9,254.7 218.9,255.6 219.0,257.1 219.0,258.2 219.1,259.6 219.1,260.7 219.2,262.0" fill="none" stroke="#000" stroke-width="1.6" stroke-linejoin="round" />
<line x1="151.4" y1="195" x2="151.4" y2="262.2" stroke="#6a6a6a" stroke-width="1" />
<line x1="151.4" y1="262.2" x2="219.8" y2="262.2" stroke="#1a1a1a" stroke-width="1.5" />
<text x="148.0" y="272.0" font-size="9.2" fill="#555" textLength="7.0" lengthAdjust="spacingAndGlyphs">10</text>
<text x="156.0" y="268.2" font-size="5.8" fill="#555">0</text>
<text x="165.1" y="272.0" font-size="9.2" fill="#555" textLength="7.0" lengthAdjust="spacingAndGlyphs">10</text>
<text x="173.1" y="268.2" font-size="5.8" fill="#555">1</text>
<text x="182.2" y="272.0" font-size="9.2" fill="#555" textLength="7.0" lengthAdjust="spacingAndGlyphs">10</text>
<text x="190.2" y="268.2" font-size="5.8" fill="#555">2</text>
<text x="199.3" y="272.0" font-size="9.2" fill="#555" textLength="7.0" lengthAdjust="spacingAndGlyphs">10</text>
<text x="207.3" y="268.2" font-size="5.8" fill="#555">3</text>
<text x="216.4" y="272.0" font-size="9.2" fill="#555" textLength="7.0" lengthAdjust="spacingAndGlyphs">10</text>
<text x="224.4" y="268.2" font-size="5.8" fill="#555">4</text>
<text x="148.20000000000002" y="196" font-size="8.5" font-weight="normal" fill="#777" text-anchor="middle" transform="rotate(-90 148.20000000000002 196)" >20</text>
<text x="148.20000000000002" y="262.4" font-size="8.5" font-weight="normal" fill="#777" text-anchor="middle" transform="rotate(-90 148.20000000000002 262.4)" >0</text>
<line x1="245.5" y1="195.0" x2="247.1" y2="195.0" stroke="#888" stroke-width="0.8" />
<line x1="245.5" y1="212.125" x2="247.1" y2="212.125" stroke="#888" stroke-width="0.8" />
<line x1="245.5" y1="229.25" x2="247.1" y2="229.25" stroke="#888" stroke-width="0.8" />
<line x1="245.5" y1="246.375" x2="247.1" y2="246.375" stroke="#888" stroke-width="0.8" />
<line x1="245.5" y1="263.5" x2="247.1" y2="263.5" stroke="#888" stroke-width="0.8" />
<polygon points="258.8,263.3 262.3,259.4 265.1,252.5 267.1,244.2 269.2,234.5 271.3,224.8 272.7,215.1 274.0,209.6 275.4,213.7 276.8,219.3 278.9,227.6 281.0,236.0 284.1,251.1 288.3,259.4 292.4,262.8 294.0,263.3" fill="#999" stroke="#555" stroke-width="0.8" stroke-linejoin="round" />
<polyline points="250.5,263.3 250.6,262.3 250.6,261.2 250.7,260.5 250.7,259.0 250.8,258.4 250.8,257.0 250.9,256.4 250.9,254.9 251.0,254.8 251.1,252.7 251.1,252.5 251.2,250.2 251.2,251.0 251.3,248.6 251.3,249.2 251.4,246.1 251.4,247.2 251.5,245.0 251.6,242.8 251.7,244.5 251.8,240.5 251.9,242.5 252.0,239.1 252.1,240.4 252.2,236.5 252.3,238.6 252.5,234.4 252.6,236.9 252.7,232.1 252.8,233.9 252.9,230.5 253.0,231.7 253.1,227.9 253.2,229.6 253.3,227.6 253.5,224.7 253.8,226.7 254.0,222.5 254.2,225.5 254.5,220.2 254.7,224.4 254.9,219.3 255.2,222.4 255.4,216.0 255.6,219.6 255.9,213.5 256.1,215.1 256.8,217.1 257.4,210.9 258.1,211.7 258.7,214.7 259.2,210.2 259.8,215.8 260.3,212.9 260.9,216.5 261.0,220.1 261.2,217.4 261.3,222.1 261.5,217.9 261.6,224.8 261.7,220.8 261.9,226.7 262.0,222.6 262.2,227.6 262.3,223.9 262.4,228.6 262.6,226.4 262.7,231.7 262.9,229.3 263.0,231.7 263.2,235.0 263.3,232.5 263.5,236.3 263.7,234.4 263.8,238.7 264.0,237.0 264.2,240.1 264.4,238.9 264.5,242.3 264.7,240.6 264.9,243.9 265.0,242.8 265.2,246.0 265.4,245.3 265.5,247.9 265.7,248.3 265.9,248.6 266.0,251.3 266.2,250.6 266.3,253.1 266.5,252.9 266.6,254.7 266.8,255.0 266.9,256.7 267.1,256.9 267.2,258.7 267.4,259.2 267.5,260.5 267.7,261.1 267.8,262.4 268.0,263.3" fill="none" stroke="#e6e6e6" stroke-width="1.0" stroke-linejoin="round" />
<polyline points="247.5,263.3 248.8,263.3 250.0,263.3 251.3,263.3 252.5,263.3 253.8,263.3 255.0,263.3 256.3,263.3 257.5,263.3 258.8,263.3 259.7,262.4 260.6,261.3 261.4,260.4 262.3,259.4 262.8,258.1 263.2,257.3 263.7,255.8 264.2,255.0 264.6,253.5 265.1,252.5 265.4,251.6 265.7,249.9 266.0,249.3 266.2,247.6 266.5,246.8 266.8,245.2 267.1,244.2 267.4,243.5 267.6,241.2 267.9,241.1 268.1,238.9 268.4,238.8 268.7,236.2 268.9,236.3 269.2,234.5 269.5,232.9 269.7,232.6 270.0,230.3 270.2,230.2 270.5,227.8 270.8,228.0 271.0,225.1 271.3,224.8 271.5,223.9 271.6,221.7 271.8,221.5 272.0,219.6 272.2,219.6 272.4,216.8 272.5,217.3 272.7,215.1 273.0,213.1 273.4,212.7 273.7,210.4 274.0,209.6 274.5,211.7 274.9,211.4 275.4,213.7 275.8,216.1 276.1,215.9 276.4,218.5 276.8,219.3 277.1,220.1 277.4,222.4 277.7,222.4 278.0,224.4 278.3,224.9 278.6,226.7 278.9,227.6 279.2,228.0 279.5,230.4 279.8,230.2 280.1,232.7 280.4,232.7 280.7,235.1 281.0,235.9 281.2,237.0 281.4,239.3 281.7,239.7 281.9,242.0 282.1,242.8 282.6,243.9 283.1,245.7 283.6,246.5 284.1,248.3 284.7,249.8 285.2,250.2 285.8,251.9 286.3,252.7 286.9,253.9 287.6,255.1 288.3,255.8 289.0,257.1 289.7,258.0 290.6,258.7 291.4,259.8 292.2,260.5 293.1,261.5 294.9,261.9 296.6,262.2 298.0,262.4 299.3,262.6 300.7,262.8 301.9,262.8 303.2,262.9 304.4,262.9 305.7,263.0 306.9,263.0 308.2,263.1 309.4,263.1 310.7,263.2 311.9,263.2 313.2,263.3" fill="none" stroke="#000" stroke-width="1.6" stroke-linejoin="round" />
<line x1="247.1" y1="195" x2="247.1" y2="263.5" stroke="#6a6a6a" stroke-width="1" />
<line x1="247.1" y1="263.5" x2="313.5" y2="263.5" stroke="#1a1a1a" stroke-width="1.5" />
<text x="243.7" y="273.3" font-size="9.2" fill="#555" textLength="7.0" lengthAdjust="spacingAndGlyphs">10</text>
<text x="251.7" y="269.5" font-size="5.8" fill="#555">0</text>
<text x="260.3" y="273.3" font-size="9.2" fill="#555" textLength="7.0" lengthAdjust="spacingAndGlyphs">10</text>
<text x="268.3" y="269.5" font-size="5.8" fill="#555">1</text>
<text x="276.9" y="273.3" font-size="9.2" fill="#555" textLength="7.0" lengthAdjust="spacingAndGlyphs">10</text>
<text x="284.9" y="269.5" font-size="5.8" fill="#555">2</text>
<text x="293.5" y="273.3" font-size="9.2" fill="#555" textLength="7.0" lengthAdjust="spacingAndGlyphs">10</text>
<text x="301.5" y="269.5" font-size="5.8" fill="#555">3</text>
<text x="310.1" y="273.3" font-size="9.2" fill="#555" textLength="7.0" lengthAdjust="spacingAndGlyphs">10</text>
<text x="318.1" y="269.5" font-size="5.8" fill="#555">4</text>
<text x="243.9" y="196" font-size="8.5" font-weight="normal" fill="#777" text-anchor="middle" transform="rotate(-90 243.9 196)" >80</text>
<text x="243.9" y="263.7" font-size="8.5" font-weight="normal" fill="#777" text-anchor="middle" transform="rotate(-90 243.9 263.7)" >0</text>
<line x1="333.9" y1="195.0" x2="335.5" y2="195.0" stroke="#888" stroke-width="0.8" />
<line x1="333.9" y1="212.125" x2="335.5" y2="212.125" stroke="#888" stroke-width="0.8" />
<line x1="333.9" y1="229.25" x2="335.5" y2="229.25" stroke="#888" stroke-width="0.8" />
<line x1="333.9" y1="246.375" x2="335.5" y2="246.375" stroke="#888" stroke-width="0.8" />
<line x1="333.9" y1="263.5" x2="335.5" y2="263.5" stroke="#888" stroke-width="0.8" />
<polygon points="337.1,263.3 340.6,258.0 343.4,251.1 345.4,240.0 346.8,229.0 348.2,217.9 350.3,212.4 351.7,210.3 353.1,213.7 354.4,215.1 355.8,220.7 357.2,224.8 358.6,229.0 360.7,235.9 362.7,245.6 364.8,253.9 366.9,260.8 370.5,260.8 373.3,262.8 375.0,263.3" fill="#999" stroke="#555" stroke-width="0.8" stroke-linejoin="round" />
<polyline points="338.0,263.3 338.2,262.3 338.5,261.1 338.7,260.4 338.9,258.9 339.2,258.4 339.4,256.7 339.6,256.5 339.8,254.6 340.1,254.6 340.3,252.6 340.5,252.6 340.8,250.2 341.0,250.0 341.2,250.1 341.4,246.9 341.6,247.9 341.9,245.3 342.1,245.5 342.3,242.5 342.5,244.3 342.7,240.5 342.9,242.0 343.1,238.6 343.4,240.9 343.6,236.2 343.8,238.5 344.0,236.0 344.2,233.8 344.5,235.4 344.8,230.8 345.0,233.4 345.2,229.0 345.5,231.9 345.8,226.4 346.0,230.5 346.2,225.5 346.5,226.0 346.9,225.9 347.3,222.5 347.8,224.9 348.2,219.6 348.6,224.0 349.0,220.0 350.0,217.5 351.0,222.4 352.0,222.0 352.3,220.1 352.6,226.7 352.9,222.2 353.2,228.1 353.5,225.6 353.8,230.5 354.1,226.6 354.4,232.1 354.7,228.6 355.0,232.0 355.2,234.3 355.5,233.2 355.7,236.6 355.9,234.1 356.2,237.9 356.4,236.3 356.6,240.9 356.8,239.1 357.1,242.3 357.3,240.7 357.5,244.0 357.8,243.3 358.0,245.0 358.3,246.7 358.5,245.9 358.8,249.1 359.1,248.3 359.4,250.4 359.6,250.1 359.9,252.8 360.2,252.6 360.5,254.5 360.7,254.4 361.0,256.0 361.4,257.5 361.9,257.8 362.3,259.4 362.7,260.0 363.1,261.3 363.6,262.2 364.0,263.3" fill="none" stroke="#c5c5c5" stroke-width="1.0" stroke-linejoin="round" />
<polyline points="336.0,263.3 337.2,263.3 338.5,263.3 339.9,263.0 341.3,262.8 342.7,262.5 344.1,262.2 344.9,261.1 345.7,259.9 346.6,258.9 347.4,257.7 348.2,256.6 348.5,255.7 348.8,254.1 349.1,253.2 349.4,251.6 349.7,251.0 350.0,249.3 350.3,248.3 350.5,247.5 350.7,245.6 350.9,245.1 351.1,243.4 351.3,242.6 351.5,240.5 351.7,240.0 352.1,239.3 352.4,236.7 352.8,236.5 353.1,234.5 354.4,233.1 354.8,231.3 355.1,231.2 355.4,228.4 355.8,227.6 356.0,227.2 356.1,224.0 356.3,224.3 356.5,221.1 356.6,221.2 356.8,219.3 356.9,217.6 357.1,217.0 357.2,214.7 357.3,214.1 357.5,212.0 357.6,211.0 357.9,213.1 358.3,212.8 358.6,215.1 360.0,216.5 360.7,218.5 361.4,219.3 362.0,219.7 362.7,222.0 363.0,224.3 363.3,224.5 363.5,226.9 363.8,227.0 364.1,229.0 364.8,230.7 365.5,231.7 366.3,232.2 367.1,234.5 368.1,235.6 369.1,235.9 370.1,236.7 371.2,238.6 371.9,240.5 372.6,240.8 373.3,242.8 374.4,244.6 375.4,245.6 375.9,246.7 376.4,248.6 376.9,249.6 377.4,251.1 378.3,252.4 379.3,252.7 380.2,253.9 380.9,255.0 381.6,255.9 382.3,257.1 383.0,258.0 383.9,259.1 384.8,260.4 385.7,261.5 387.1,262.1 388.5,262.7 389.9,263.3 391.1,263.3 392.3,263.3 393.5,263.3 394.7,263.3" fill="none" stroke="#000" stroke-width="1.6" stroke-linejoin="round" />
<line x1="335.5" y1="195" x2="335.5" y2="263.5" stroke="#6a6a6a" stroke-width="1" />
<line x1="335.5" y1="263.5" x2="396" y2="263.5" stroke="#1a1a1a" stroke-width="1.5" />
<text x="332.1" y="273.3" font-size="9.2" fill="#555" textLength="7.0" lengthAdjust="spacingAndGlyphs">10</text>
<text x="340.1" y="269.5" font-size="5.8" fill="#555">0</text>
<text x="347.2" y="273.3" font-size="9.2" fill="#555" textLength="7.0" lengthAdjust="spacingAndGlyphs">10</text>
<text x="355.2" y="269.5" font-size="5.8" fill="#555">1</text>
<text x="362.4" y="273.3" font-size="9.2" fill="#555" textLength="7.0" lengthAdjust="spacingAndGlyphs">10</text>
<text x="370.4" y="269.5" font-size="5.8" fill="#555">2</text>
<text x="377.5" y="273.3" font-size="9.2" fill="#555" textLength="7.0" lengthAdjust="spacingAndGlyphs">10</text>
<text x="385.5" y="269.5" font-size="5.8" fill="#555">3</text>
<text x="392.6" y="273.3" font-size="9.2" fill="#555" textLength="7.0" lengthAdjust="spacingAndGlyphs">10</text>
<text x="400.6" y="269.5" font-size="5.8" fill="#555">4</text>
<text x="332.3" y="196" font-size="8.5" font-weight="normal" fill="#777" text-anchor="middle" transform="rotate(-90 332.3 196)" >40</text>
<text x="332.3" y="263.7" font-size="8.5" font-weight="normal" fill="#777" text-anchor="middle" transform="rotate(-90 332.3 263.7)" >0</text>
<line x1="419.9" y1="196.7" x2="421.5" y2="196.7" stroke="#888" stroke-width="0.8" />
<line x1="419.9" y1="213.575" x2="421.5" y2="213.575" stroke="#888" stroke-width="0.8" />
<line x1="419.9" y1="230.45" x2="421.5" y2="230.45" stroke="#888" stroke-width="0.8" />
<line x1="419.9" y1="247.325" x2="421.5" y2="247.325" stroke="#888" stroke-width="0.8" />
<line x1="419.9" y1="264.2" x2="421.5" y2="264.2" stroke="#888" stroke-width="0.8" />
<polygon points="422.1,264.0 424.2,253.9 426.3,240.0 428.4,223.4 430.4,206.8 431.8,201.3 433.2,201.3 434.6,198.5 436.0,209.6 437.4,220.7 438.7,231.7 440.8,245.6 443.6,253.9 446.4,259.4 449.1,262.8 450.0,264.0" fill="#999" stroke="#555" stroke-width="0.8" stroke-linejoin="round" />
<polyline points="423.0,264.0 423.1,263.1 423.2,261.8 423.4,261.1 423.5,259.9 423.6,259.3 423.8,257.5 423.9,257.4 424.0,255.7 424.1,255.5 424.2,253.3 424.4,253.3 424.5,251.5 424.6,251.5 424.8,249.6 424.9,249.8 425.0,248.0 425.1,246.4 425.2,246.7 425.4,244.4 425.5,245.3 425.6,242.5 425.8,243.4 425.9,240.2 426.0,240.6 426.1,237.1 426.2,239.0 426.4,234.9 426.5,238.0 426.6,232.8 426.8,235.0 426.9,231.5 427.0,232.9 427.1,228.5 427.2,232.4 427.4,226.9 427.5,228.0 427.6,228.8 427.8,224.4 427.9,227.7 428.1,222.0 428.2,225.4 428.3,220.6 428.5,222.6 428.6,218.8 428.8,221.8 428.9,215.6 429.0,218.4 429.2,212.8 429.3,216.7 429.4,211.9 429.6,214.4 429.7,210.3 429.9,214.1 430.0,210.0 430.4,207.1 430.7,209.5 431.1,204.7 431.4,207.8 431.8,201.7 432.1,205.3 432.5,203.0 433.0,200.6 433.5,206.2 434.0,202.8 434.5,209.7 435.0,208.0 435.2,207.4 435.4,212.2 435.5,209.2 435.7,213.7 435.9,211.5 436.1,215.9 436.2,211.5 436.4,219.5 436.6,213.7 436.8,219.3 437.0,217.2 437.1,223.2 437.3,219.8 437.5,222.0 437.6,225.7 437.8,222.4 437.9,228.1 438.1,225.0 438.2,229.6 438.3,226.4 438.5,230.1 438.6,229.2 438.8,233.3 438.9,230.3 439.0,234.1 439.2,232.5 439.3,237.2 439.4,235.0 439.6,238.5 439.7,237.2 439.9,239.9 440.0,240.0 440.2,239.4 440.4,243.4 440.6,242.3 440.9,244.6 441.1,244.4 441.3,247.1 441.5,246.1 441.7,248.6 441.9,248.5 442.1,250.8 442.4,250.2 442.6,252.8 442.8,252.4 443.0,254.0 443.4,255.3 443.8,255.8 444.1,257.5 444.5,257.7 444.9,259.3 445.2,259.9 445.6,261.2 446.0,262.0 447.0,262.9 448.0,264.0" fill="none" stroke="#c0c0c0" stroke-width="1.0" stroke-linejoin="round" />
<polyline points="422.0,264.0 423.4,264.0 424.9,264.0 426.3,263.4 427.7,262.8 428.0,261.6 428.3,260.2 428.6,259.1 428.9,257.6 429.2,256.7 429.5,255.0 429.8,253.9 430.0,252.8 430.2,251.0 430.3,250.3 430.5,248.7 430.7,247.9 430.9,245.9 431.1,245.2 431.3,243.4 431.4,242.9 431.6,240.8 431.8,240.0 431.9,239.1 432.1,236.9 432.2,237.0 432.4,234.2 432.5,234.3 432.6,231.8 432.8,231.9 432.9,229.3 433.1,229.2 433.2,227.6 433.4,225.5 433.5,226.1 433.7,223.3 433.8,223.3 434.0,220.8 434.1,220.9 434.3,218.7 434.4,218.7 434.6,216.5 434.8,214.7 435.0,214.2 435.1,212.0 435.3,211.4 435.5,208.7 435.7,208.2 435.9,207.1 436.2,205.1 436.4,204.9 436.7,202.7 437.1,203.6 437.4,205.8 437.8,206.1 438.1,208.2 438.4,210.3 438.6,210.3 438.9,213.1 439.1,213.3 439.4,215.1 439.6,217.2 439.8,216.7 439.9,219.1 440.1,219.6 440.3,221.8 440.4,221.7 440.6,224.1 440.8,224.8 441.1,225.8 441.5,228.1 441.9,228.5 442.2,230.3 442.5,232.4 442.8,232.3 443.0,234.9 443.3,235.3 443.6,237.3 444.1,239.3 444.5,239.7 445.0,241.4 445.4,243.4 445.7,243.6 446.0,245.9 446.4,247.0 446.7,248.1 447.0,250.1 447.4,250.9 447.7,252.5 448.2,254.0 448.6,255.0 449.1,256.6 449.6,258.2 450.0,259.3 450.5,260.8 451.6,262.2 452.6,263.5 453.8,263.5 455.1,263.5 456.3,263.5 457.5,263.5 458.8,263.5 460.0,263.5 461.3,263.5 462.5,263.5 463.7,263.5 465.0,263.5 466.2,263.5 467.4,263.5 468.7,263.5 469.9,263.5 471.1,263.5 472.4,263.5 473.6,263.5 474.8,263.5 476.1,263.5 477.3,263.5 478.6,263.5 479.8,263.5 481.0,263.5 482.3,263.5 483.5,263.5" fill="none" stroke="#000" stroke-width="1.6" stroke-linejoin="round" />
<line x1="421.5" y1="196.7" x2="421.5" y2="264.2" stroke="#6a6a6a" stroke-width="1" />
<line x1="421.5" y1="264.2" x2="483.8" y2="264.2" stroke="#1a1a1a" stroke-width="1.5" />
<text x="418.1" y="274.0" font-size="9.2" fill="#555" textLength="7.0" lengthAdjust="spacingAndGlyphs">10</text>
<text x="426.1" y="270.2" font-size="5.8" fill="#555">0</text>
<text x="433.7" y="274.0" font-size="9.2" fill="#555" textLength="7.0" lengthAdjust="spacingAndGlyphs">10</text>
<text x="441.7" y="270.2" font-size="5.8" fill="#555">1</text>
<text x="449.2" y="274.0" font-size="9.2" fill="#555" textLength="7.0" lengthAdjust="spacingAndGlyphs">10</text>
<text x="457.2" y="270.2" font-size="5.8" fill="#555">2</text>
<text x="464.8" y="274.0" font-size="9.2" fill="#555" textLength="7.0" lengthAdjust="spacingAndGlyphs">10</text>
<text x="472.8" y="270.2" font-size="5.8" fill="#555">3</text>
<text x="480.4" y="274.0" font-size="9.2" fill="#555" textLength="7.0" lengthAdjust="spacingAndGlyphs">10</text>
<text x="488.4" y="270.2" font-size="5.8" fill="#555">4</text>
<text x="418.3" y="197.7" font-size="8.5" font-weight="normal" fill="#777" text-anchor="middle" transform="rotate(-90 418.3 197.7)" >40</text>
<text x="418.3" y="264.4" font-size="8.5" font-weight="normal" fill="#777" text-anchor="middle" transform="rotate(-90 418.3 264.4)" >0</text>
<text x="0" y="324.2" font-size="16.5" font-weight="bold" fill="#000" text-anchor="start" stroke="#000" stroke-width="0.3" textLength="11.5" lengthAdjust="spacingAndGlyphs" >B</text>
<line x1="45" y1="346" x2="45" y2="478" stroke="#000" stroke-width="2" />
<line x1="42.5" y1="477.2" x2="232" y2="477.2" stroke="#000" stroke-width="2" />
<line x1="42.3" y1="347.8" x2="45" y2="347.8" stroke="#000" stroke-width="1.8" />
<text x="35.3" y="351.2" font-size="9.6" font-weight="bold" fill="#000" text-anchor="end" stroke="#000" stroke-width="0.3" textLength="20.4" lengthAdjust="spacingAndGlyphs" >1500</text>
<line x1="42.3" y1="369.3" x2="45" y2="369.3" stroke="#000" stroke-width="1.8" />
<text x="35.3" y="372.7" font-size="9.6" font-weight="bold" fill="#000" text-anchor="end" stroke="#000" stroke-width="0.3" textLength="20.4" lengthAdjust="spacingAndGlyphs" >1250</text>
<line x1="42.3" y1="390.8" x2="45" y2="390.8" stroke="#000" stroke-width="1.8" />
<text x="35.3" y="394.2" font-size="9.6" font-weight="bold" fill="#000" text-anchor="end" stroke="#000" stroke-width="0.3" textLength="20.4" lengthAdjust="spacingAndGlyphs" >1000</text>
<line x1="42.3" y1="412.5" x2="45" y2="412.5" stroke="#000" stroke-width="1.8" />
<text x="35.3" y="415.9" font-size="9.6" font-weight="bold" fill="#000" text-anchor="end" stroke="#000" stroke-width="0.3" textLength="15.299999999999999" lengthAdjust="spacingAndGlyphs" >750</text>
<line x1="42.3" y1="434.1" x2="45" y2="434.1" stroke="#000" stroke-width="1.8" />
<text x="35.3" y="437.5" font-size="9.6" font-weight="bold" fill="#000" text-anchor="end" stroke="#000" stroke-width="0.3" textLength="15.299999999999999" lengthAdjust="spacingAndGlyphs" >500</text>
<line x1="42.3" y1="455.6" x2="45" y2="455.6" stroke="#000" stroke-width="1.8" />
<text x="35.3" y="459.0" font-size="9.6" font-weight="bold" fill="#000" text-anchor="end" stroke="#000" stroke-width="0.3" textLength="15.299999999999999" lengthAdjust="spacingAndGlyphs" >250</text>
<line x1="42.3" y1="477.3" x2="45" y2="477.3" stroke="#000" stroke-width="1.8" />
<text x="35.3" y="480.7" font-size="9.6" font-weight="bold" fill="#000" text-anchor="end" stroke="#000" stroke-width="0.3" textLength="5.1" lengthAdjust="spacingAndGlyphs" >0</text>
<text x="10.9" y="452.3" font-size="10.8" font-weight="bold" fill="#000" text-anchor="start" stroke="#000" stroke-width="0.3" textLength="100" lengthAdjust="spacingAndGlyphs" transform="rotate(-90 10.9 452.3)" >IL-12p70 (pg / mL)</text>
<rect x="99.5" y="382" width="33" height="95" fill="#000"/>
<line x1="115.8" y1="368.3" x2="115.8" y2="382" stroke="#000" stroke-width="1.6" />
<line x1="108.2" y1="368.3" x2="123.5" y2="368.3" stroke="#000" stroke-width="1.6" />
<line x1="51" y1="473.8" x2="83" y2="473.8" stroke="#8c8c8c" stroke-width="1.3" />
<line x1="83" y1="473.8" x2="98" y2="473.8" stroke="#e2e2e2" stroke-width="1" />
<line x1="146" y1="474.2" x2="174" y2="474.2" stroke="#999" stroke-width="1.1" stroke-dasharray="3.2 2.6"/>
<line x1="192" y1="474.2" x2="222.5" y2="474.2" stroke="#999" stroke-width="1.1" stroke-dasharray="1 1"/>
<text x="62.5" y="463.2" font-size="13.5" font-weight="bold" fill="#000" text-anchor="start" stroke="#000" stroke-width="0.3" textLength="18" lengthAdjust="spacingAndGlyphs" >ND</text>
<text x="157.5" y="463.7" font-size="13.5" font-weight="bold" fill="#000" text-anchor="start" stroke="#000" stroke-width="0.3" textLength="17.3" lengthAdjust="spacingAndGlyphs" >ND</text>
<text x="201" y="463.7" font-size="13.5" font-weight="bold" fill="#000" text-anchor="start" stroke="#000" stroke-width="0.3" textLength="17.7" lengthAdjust="spacingAndGlyphs" >ND</text>
<rect x="73.9" y="490.8" width="4.2" height="1.9" fill="#000"/>
<rect x="163.1" y="490.6" width="4.2" height="1.9" fill="#000"/>
<text x="103.6" y="493" font-size="10.5" font-weight="bold" fill="#000" text-anchor="start" stroke="#000" stroke-width="0.3" textLength="27.5" lengthAdjust="spacingAndGlyphs" >DC1c</text>
<text x="197.5" y="493" font-size="10.5" font-weight="bold" fill="#000" text-anchor="start" stroke="#000" stroke-width="0.3" textLength="26.3" lengthAdjust="spacingAndGlyphs" >DC1c</text>
<line x1="53.1" y1="496.9" x2="128.8" y2="496.9" stroke="#000" stroke-width="1.6" />
<line x1="148.1" y1="497.3" x2="227.7" y2="497.3" stroke="#000" stroke-width="1.6" />
<text x="63" y="515.5" font-size="12" font-weight="bold" fill="#000" text-anchor="start" stroke="#000" stroke-width="0.3" textLength="68" lengthAdjust="spacingAndGlyphs" >Control-DCs</text>
<text x="167.6" y="517" font-size="11.5" font-weight="bold" fill="#000" text-anchor="start" stroke="#000" stroke-width="0.3" textLength="45" lengthAdjust="spacingAndGlyphs" >MR-DCs</text>
<text x="250.5" y="324.3" font-size="16.5" font-weight="bold" fill="#000" text-anchor="start" stroke="#000" stroke-width="0.3" textLength="12" lengthAdjust="spacingAndGlyphs" >C</text>
<line x1="290.9" y1="329.1" x2="290.9" y2="475" stroke="#000" stroke-width="2.3" />
<line x1="289.7" y1="473.9" x2="520" y2="473.9" stroke="#000" stroke-width="2.3" />
<line x1="287" y1="330.0" x2="291" y2="330.0" stroke="#000" stroke-width="1.8" />
<text x="280.7" y="333.7" font-size="10.2" font-weight="bold" fill="#000" text-anchor="end" stroke="#000" stroke-width="0.3" textLength="11.2" lengthAdjust="spacingAndGlyphs" >60</text>
<line x1="287" y1="353.9" x2="291" y2="353.9" stroke="#000" stroke-width="1.8" />
<text x="280.7" y="357.59999999999997" font-size="10.2" font-weight="bold" fill="#000" text-anchor="end" stroke="#000" stroke-width="0.3" textLength="11.2" lengthAdjust="spacingAndGlyphs" >50</text>
<line x1="287" y1="377.79999999999995" x2="291" y2="377.79999999999995" stroke="#000" stroke-width="1.8" />
<text x="280.7" y="381.49999999999994" font-size="10.2" font-weight="bold" fill="#000" text-anchor="end" stroke="#000" stroke-width="0.3" textLength="11.2" lengthAdjust="spacingAndGlyphs" >40</text>
<line x1="287" y1="401.7" x2="291" y2="401.7" stroke="#000" stroke-width="1.8" />
<text x="280.7" y="405.4" font-size="10.2" font-weight="bold" fill="#000" text-anchor="end" stroke="#000" stroke-width="0.3" textLength="11.2" lengthAdjust="spacingAndGlyphs" >30</text>
<line x1="287" y1="425.59999999999997" x2="291" y2="425.59999999999997" stroke="#000" stroke-width="1.8" />
<text x="280.7" y="429.29999999999995" font-size="10.2" font-weight="bold" fill="#000" text-anchor="end" stroke="#000" stroke-width="0.3" textLength="11.2" lengthAdjust="spacingAndGlyphs" >20</text>
<line x1="287" y1="449.5" x2="291" y2="449.5" stroke="#000" stroke-width="1.8" />
<text x="280.7" y="453.2" font-size="10.2" font-weight="bold" fill="#000" text-anchor="end" stroke="#000" stroke-width="0.3" textLength="11.2" lengthAdjust="spacingAndGlyphs" >10</text>
<line x1="304.9" y1="474" x2="304.9" y2="478.3" stroke="#000" stroke-width="1.8" />
<text x="304.9" y="493.2" font-size="10.3" font-weight="bold" stroke="#000" stroke-width="0.5" text-anchor="end" transform="rotate(-45 304.9 493.2)">1:640</text>
<line x1="333.63" y1="474" x2="333.63" y2="478.3" stroke="#000" stroke-width="1.8" />
<text x="333.6" y="493.2" font-size="10.3" font-weight="bold" stroke="#000" stroke-width="0.5" text-anchor="end" transform="rotate(-45 333.6 493.2)">1:320</text>
<line x1="362.35999999999996" y1="474" x2="362.35999999999996" y2="478.3" stroke="#000" stroke-width="1.8" />
<text x="362.4" y="493.2" font-size="10.3" font-weight="bold" stroke="#000" stroke-width="0.5" text-anchor="end" transform="rotate(-45 362.4 493.2)">1:160</text>
<line x1="391.09" y1="474" x2="391.09" y2="478.3" stroke="#000" stroke-width="1.8" />
<text x="391.1" y="493.2" font-size="10.3" font-weight="bold" stroke="#000" stroke-width="0.5" text-anchor="end" transform="rotate(-45 391.1 493.2)">1:80</text>
<line x1="419.82" y1="474" x2="419.82" y2="478.3" stroke="#000" stroke-width="1.8" />
<text x="419.8" y="493.2" font-size="10.3" font-weight="bold" stroke="#000" stroke-width="0.5" text-anchor="end" transform="rotate(-45 419.8 493.2)">1:40</text>
<line x1="448.54999999999995" y1="474" x2="448.54999999999995" y2="478.3" stroke="#000" stroke-width="1.8" />
<text x="448.5" y="493.2" font-size="10.3" font-weight="bold" stroke="#000" stroke-width="0.5" text-anchor="end" transform="rotate(-45 448.5 493.2)">1:20</text>
<line x1="477.28" y1="474" x2="477.28" y2="478.3" stroke="#000" stroke-width="1.8" />
<text x="477.3" y="493.2" font-size="10.3" font-weight="bold" stroke="#000" stroke-width="0.5" text-anchor="end" transform="rotate(-45 477.3 493.2)">1:10</text>
<line x1="506.01" y1="474" x2="506.01" y2="478.3" stroke="#000" stroke-width="1.8" />
<text x="506.0" y="493.2" font-size="10.3" font-weight="bold" stroke="#000" stroke-width="0.5" text-anchor="end" transform="rotate(-45 506.0 493.2)">1:5</text>
<text x="298.0" y="530.8" font-size="13" font-weight="normal" fill="#000" text-anchor="start" textLength="195.5" lengthAdjust="spacingAndGlyphs" >Stimulator : Responder cell ratio</text>
<text x="261" y="489.6" font-size="12" transform="rotate(-90 261 489.6)" textLength="113" lengthAdjust="spacingAndGlyphs">[<tspan font-size="7" dy="-4">3</tspan><tspan dy="4">H]TdR incorporation</tspan></text>
<text x="260" y="373.8" font-size="7.5" transform="rotate(-90 260 373.8)" textLength="43" lengthAdjust="spacingAndGlyphs">(c.p.m.x10<tspan font-size="5" dy="-3">3</tspan><tspan dy="3">)</tspan></text>
<polyline points="304.9,469.8 333.6,469.8 362.4,471.0 391.1,471.0 419.8,467.7 448.5,464.6 477.3,463.1 506.0,453.8" fill="none" stroke="#000" stroke-width="1.6" stroke-linejoin="round" />
<polyline points="304.9,468.6 333.6,467.7 362.4,456.0 391.1,429.7 419.8,398.4 448.5,367.8 477.3,349.8 506.0,375.4" fill="none" stroke="#000" stroke-width="1.7" stroke-linejoin="round" />
<rect x="302.3" y="467.0" width="5.2" height="5.6" fill="#000"/>
<rect x="331.0" y="467.0" width="5.2" height="5.6" fill="#000"/>
<rect x="359.8" y="468.2" width="5.2" height="5.6" fill="#000"/>
<rect x="388.5" y="468.2" width="5.2" height="5.6" fill="#000"/>
<rect x="417.2" y="464.9" width="5.2" height="5.6" fill="#000"/>
<rect x="445.9" y="461.8" width="5.2" height="5.6" fill="#000"/>
<rect x="474.7" y="460.3" width="5.2" height="5.6" fill="#000"/>
<rect x="503.4" y="451.0" width="5.2" height="5.6" fill="#000"/>
<polygon points="304.9,465.6 307.9,468.6 304.9,471.6 301.9,468.6" fill="#000"/>
<polygon points="333.6,464.7 336.6,467.7 333.6,470.7 330.6,467.7" fill="#000"/>
<polygon points="362.4,453.0 365.4,456.0 362.4,459.0 359.4,456.0" fill="#000"/>
<polygon points="391.1,426.7 394.1,429.7 391.1,432.7 388.1,429.7" fill="#000"/>
<polygon points="419.8,395.4 422.8,398.4 419.8,401.4 416.8,398.4" fill="#000"/>
<polygon points="448.5,364.8 451.5,367.8 448.5,370.8 445.5,367.8" fill="#000"/>
<polygon points="477.3,346.8 480.3,349.8 477.3,352.8 474.3,349.8" fill="#000"/>
<polygon points="506.0,372.4 509.0,375.4 506.0,378.4 503.0,375.4" fill="#000"/>
<polyline points="304.9,469.8 333.6,469.8 362.4,470.5 391.1,470.5 419.8,469.8 448.5,469.6 477.3,468.9 506.0,461.4" fill="none" stroke="#888" stroke-width="1.3" stroke-linejoin="round" />
<polyline points="304.9,468.6 333.6,467.7 362.4,467.2 391.1,464.3 419.8,460.7 448.5,452.4 477.3,452.4 506.0,432.8" fill="none" stroke="#888" stroke-width="1.5" stroke-linejoin="round" />
<circle cx="304.9" cy="469.8" r="2.4" fill="none" stroke="#888" stroke-width="1.3"/>
<circle cx="333.6" cy="469.8" r="2.4" fill="none" stroke="#888" stroke-width="1.3"/>
<circle cx="362.4" cy="470.5" r="2.4" fill="none" stroke="#888" stroke-width="1.3"/>
<circle cx="391.1" cy="470.5" r="2.4" fill="none" stroke="#888" stroke-width="1.3"/>
<circle cx="419.8" cy="469.8" r="2.4" fill="none" stroke="#888" stroke-width="1.3"/>
<circle cx="448.5" cy="469.6" r="2.4" fill="none" stroke="#888" stroke-width="1.3"/>
<circle cx="477.3" cy="468.9" r="2.4" fill="none" stroke="#888" stroke-width="1.3"/>
<circle cx="506.0" cy="461.4" r="2.4" fill="none" stroke="#888" stroke-width="1.3"/>
<polygon points="302.2,466.1 307.6,466.1 304.9,471.5" fill="none" stroke="#888" stroke-width="1.3"/>
<polygon points="330.9,465.2 336.3,465.2 333.6,470.6" fill="none" stroke="#888" stroke-width="1.3"/>
<polygon points="359.7,464.7 365.1,464.7 362.4,470.1" fill="none" stroke="#888" stroke-width="1.3"/>
<polygon points="388.4,461.8 393.8,461.8 391.1,467.2" fill="none" stroke="#888" stroke-width="1.3"/>
<polygon points="417.1,458.2 422.5,458.2 419.8,463.6" fill="none" stroke="#888" stroke-width="1.3"/>
<polygon points="445.8,449.9 451.2,449.9 448.5,455.3" fill="none" stroke="#888" stroke-width="1.3"/>
<polygon points="474.6,449.9 480.0,449.9 477.3,455.3" fill="none" stroke="#888" stroke-width="1.3"/>
<polygon points="503.3,430.3 508.7,430.3 506.0,435.7" fill="none" stroke="#888" stroke-width="1.3"/>
<line x1="362.35999999999996" y1="452.2" x2="362.35999999999996" y2="461.0" stroke="#000" stroke-width="1.3" />
<line x1="359.55999999999995" y1="452.2" x2="365.15999999999997" y2="452.2" stroke="#000" stroke-width="1.3" />
<line x1="359.55999999999995" y1="461.0" x2="365.15999999999997" y2="461.0" stroke="#000" stroke-width="1.3" />
<line x1="391.09" y1="426.0" x2="391.09" y2="434.0" stroke="#000" stroke-width="1.3" />
<line x1="388.28999999999996" y1="426.0" x2="393.89" y2="426.0" stroke="#000" stroke-width="1.3" />
<line x1="388.28999999999996" y1="434.0" x2="393.89" y2="434.0" stroke="#000" stroke-width="1.3" />
<line x1="448.54999999999995" y1="356.2" x2="448.54999999999995" y2="380.8" stroke="#000" stroke-width="1.3" />
<line x1="445.74999999999994" y1="356.2" x2="451.34999999999997" y2="356.2" stroke="#000" stroke-width="1.3" />
<line x1="445.74999999999994" y1="380.8" x2="451.34999999999997" y2="380.8" stroke="#000" stroke-width="1.3" />
<line x1="503.21" y1="429.6" x2="508.81" y2="429.6" stroke="#888" stroke-width="1.2" />
<line x1="503.21" y1="437.2" x2="508.81" y2="437.2" stroke="#888" stroke-width="1.2" />
<line x1="506.01" y1="429.6" x2="506.01" y2="437.2" stroke="#888" stroke-width="1.2" />
<line x1="362.2" y1="442.5" x2="362.2" y2="447.7" stroke="#111" stroke-width="1.25" />
<line x1="359.95" y1="443.8" x2="364.45" y2="446.4" stroke="#111" stroke-width="1.25" />
<line x1="359.95" y1="446.4" x2="364.45" y2="443.8" stroke="#111" stroke-width="1.25" />
<line x1="385.6" y1="415.5" x2="385.6" y2="420.7" stroke="#111" stroke-width="1.25" />
<line x1="383.35" y1="416.8" x2="387.85" y2="419.4" stroke="#111" stroke-width="1.25" />
<line x1="383.35" y1="419.4" x2="387.85" y2="416.8" stroke="#111" stroke-width="1.25" />
<line x1="392.5" y1="415.5" x2="392.5" y2="420.7" stroke="#111" stroke-width="1.25" />
<line x1="390.25" y1="416.8" x2="394.75" y2="419.4" stroke="#111" stroke-width="1.25" />
<line x1="390.25" y1="419.4" x2="394.75" y2="416.8" stroke="#111" stroke-width="1.25" />
<line x1="399.4" y1="415.5" x2="399.4" y2="420.7" stroke="#111" stroke-width="1.25" />
<line x1="397.15" y1="416.8" x2="401.65" y2="419.4" stroke="#111" stroke-width="1.25" />
<line x1="397.15" y1="419.4" x2="401.65" y2="416.8" stroke="#111" stroke-width="1.25" />
<line x1="413.5" y1="384.6" x2="413.5" y2="389.8" stroke="#111" stroke-width="1.25" />
<line x1="411.25" y1="385.9" x2="415.75" y2="388.5" stroke="#111" stroke-width="1.25" />
<line x1="411.25" y1="388.5" x2="415.75" y2="385.9" stroke="#111" stroke-width="1.25" />
<line x1="420.4" y1="384.6" x2="420.4" y2="389.8" stroke="#111" stroke-width="1.25" />
<line x1="418.15" y1="385.9" x2="422.65" y2="388.5" stroke="#111" stroke-width="1.25" />
<line x1="418.15" y1="388.5" x2="422.65" y2="385.9" stroke="#111" stroke-width="1.25" />
<line x1="427.3" y1="384.6" x2="427.3" y2="389.8" stroke="#111" stroke-width="1.25" />
<line x1="425.05" y1="385.9" x2="429.55" y2="388.5" stroke="#111" stroke-width="1.25" />
<line x1="425.05" y1="388.5" x2="429.55" y2="385.9" stroke="#111" stroke-width="1.25" />
<line x1="442.5" y1="348.7" x2="442.5" y2="353.9" stroke="#111" stroke-width="1.25" />
<line x1="440.25" y1="350.0" x2="444.75" y2="352.6" stroke="#111" stroke-width="1.25" />
<line x1="440.25" y1="352.6" x2="444.75" y2="350.0" stroke="#111" stroke-width="1.25" />
<line x1="449.4" y1="348.7" x2="449.4" y2="353.9" stroke="#111" stroke-width="1.25" />
<line x1="447.15" y1="350.0" x2="451.65" y2="352.6" stroke="#111" stroke-width="1.25" />
<line x1="447.15" y1="352.6" x2="451.65" y2="350.0" stroke="#111" stroke-width="1.25" />
<line x1="456.3" y1="348.7" x2="456.3" y2="353.9" stroke="#111" stroke-width="1.25" />
<line x1="454.05" y1="350.0" x2="458.55" y2="352.6" stroke="#111" stroke-width="1.25" />
<line x1="454.05" y1="352.6" x2="458.55" y2="350.0" stroke="#111" stroke-width="1.25" />
<line x1="471.3" y1="339.7" x2="471.3" y2="344.9" stroke="#111" stroke-width="1.25" />
<line x1="469.05" y1="341.0" x2="473.55" y2="343.6" stroke="#111" stroke-width="1.25" />
<line x1="469.05" y1="343.6" x2="473.55" y2="341.0" stroke="#111" stroke-width="1.25" />
<line x1="478.2" y1="339.7" x2="478.2" y2="344.9" stroke="#111" stroke-width="1.25" />
<line x1="475.95" y1="341.0" x2="480.45" y2="343.6" stroke="#111" stroke-width="1.25" />
<line x1="475.95" y1="343.6" x2="480.45" y2="341.0" stroke="#111" stroke-width="1.25" />
<line x1="485.1" y1="339.7" x2="485.1" y2="344.9" stroke="#111" stroke-width="1.25" />
<line x1="482.85" y1="341.0" x2="487.35" y2="343.6" stroke="#111" stroke-width="1.25" />
<line x1="482.85" y1="343.6" x2="487.35" y2="341.0" stroke="#111" stroke-width="1.25" />
<line x1="500.0" y1="361.2" x2="500.0" y2="366.4" stroke="#111" stroke-width="1.25" />
<line x1="497.75" y1="362.5" x2="502.25" y2="365.1" stroke="#111" stroke-width="1.25" />
<line x1="497.75" y1="365.1" x2="502.25" y2="362.5" stroke="#111" stroke-width="1.25" />
<line x1="506.9" y1="361.2" x2="506.9" y2="366.4" stroke="#111" stroke-width="1.25" />
<line x1="504.65" y1="362.5" x2="509.15" y2="365.1" stroke="#111" stroke-width="1.25" />
<line x1="504.65" y1="365.1" x2="509.15" y2="362.5" stroke="#111" stroke-width="1.25" />
<line x1="513.8" y1="361.2" x2="513.8" y2="366.4" stroke="#111" stroke-width="1.25" />
<line x1="511.55" y1="362.5" x2="516.05" y2="365.1" stroke="#111" stroke-width="1.25" />
<line x1="511.55" y1="365.1" x2="516.05" y2="362.5" stroke="#111" stroke-width="1.25" />
<line x1="298.8" y1="332" x2="317.5" y2="332" stroke="#000" stroke-width="1.6" />
<rect x="305.59999999999997" y="329.4" width="5.2" height="5.2" fill="#000"/>
<text x="320" y="335.5" font-size="10" font-weight="bold" fill="#000" text-anchor="start" stroke="#000" stroke-width="0.3" textLength="61.8" lengthAdjust="spacingAndGlyphs" >control-DCs</text>
<line x1="298.8" y1="346.2" x2="317.5" y2="346.2" stroke="#000" stroke-width="1.6" />
<polygon points="308.2,343.2 311.2,346.2 308.2,349.2 305.2,346.2" fill="#000"/>
<text x="320" y="349.7" font-size="10" font-weight="bold" fill="#000" text-anchor="start" stroke="#000" stroke-width="0.3" textLength="102" lengthAdjust="spacingAndGlyphs" >control-DCs + DC1c</text>
<line x1="298.8" y1="360" x2="317.5" y2="360" stroke="#8a8a8a" stroke-width="1.6" />
<circle cx="308.2" cy="360" r="2.4" fill="none" stroke="#888" stroke-width="1.3"/>
<text x="320" y="363.5" font-size="10" font-weight="bold" fill="#000" text-anchor="start" stroke="#000" stroke-width="0.3" textLength="41.2" lengthAdjust="spacingAndGlyphs" >MR-DCs</text>
<line x1="298.8" y1="375" x2="317.5" y2="375" stroke="#8a8a8a" stroke-width="1.6" />
<polygon points="305.5,372.5 310.9,372.5 308.2,377.9" fill="none" stroke="#888" stroke-width="1.3"/>
<text x="320" y="378.5" font-size="10" font-weight="bold" fill="#000" text-anchor="start" stroke="#000" stroke-width="0.3" textLength="81.2" lengthAdjust="spacingAndGlyphs" >MR-DCs + DC1c</text>
</svg>
</body></html>
